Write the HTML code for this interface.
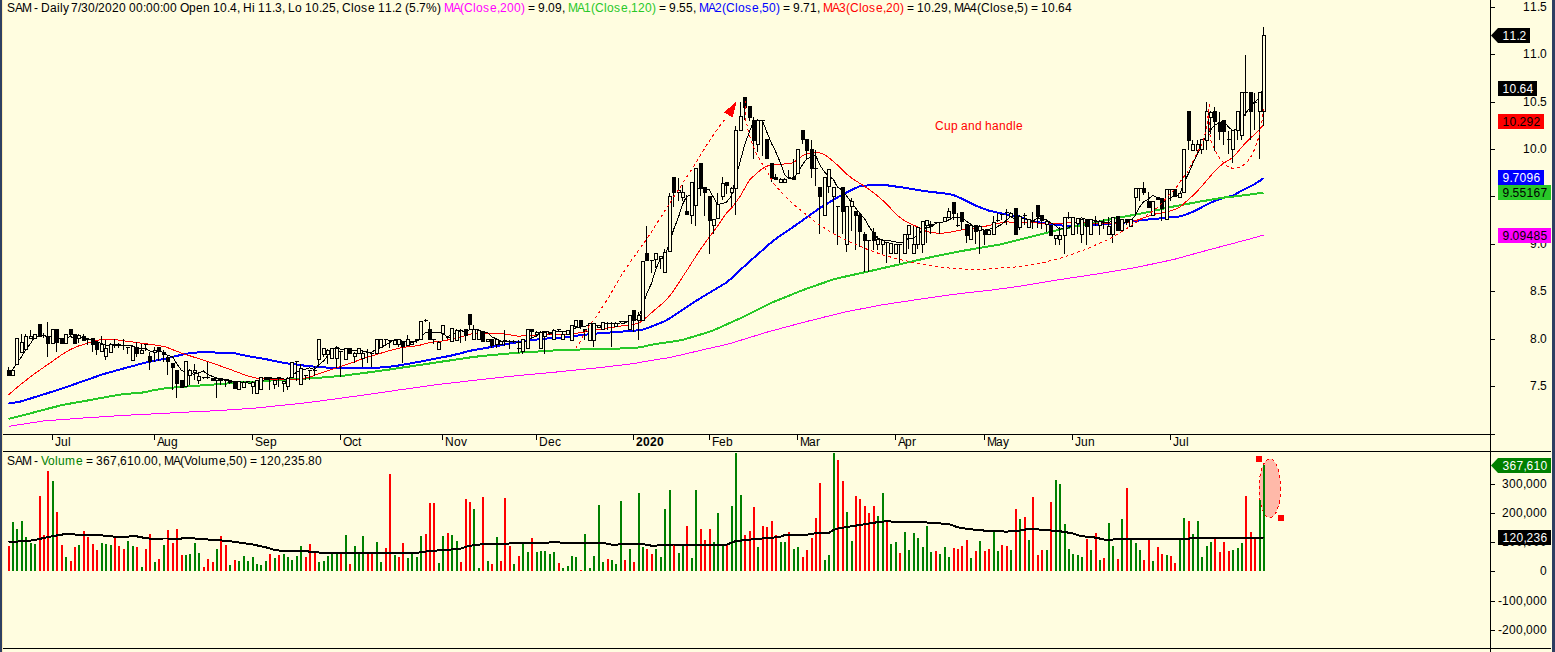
<!DOCTYPE html>
<html><head><meta charset="utf-8"><title>SAM - Daily</title>
<style>
html,body{margin:0;padding:0;background:#fffde0;}
body{width:1555px;height:652px;overflow:hidden;position:relative;}
svg{position:absolute;left:0;top:0;display:block;}
text{font-family:"Liberation Sans",sans-serif;font-size:12px;}
</style></head><body>
<svg width="1555" height="652" viewBox="0 0 1555 652">
<rect x="0" y="0" width="1555" height="652" fill="#fffde0"/>

<g shape-rendering="crispEdges">
<rect x="0" y="0" width="2" height="652" fill="#2e3f62"/>
<rect x="2" y="0" width="1" height="652" fill="#fbe9b4"/>
<rect x="1552" y="0" width="3" height="652" fill="#2e3f62"/>
<rect x="1490" y="0" width="1" height="652" fill="#000"/>
<rect x="3" y="434" width="1492" height="1" fill="#000"/>
<rect x="3" y="451" width="1548" height="1" fill="#000"/>
<rect x="3" y="648" width="1548" height="1" fill="#000"/>
<rect x="1491" y="7" width="4" height="1" fill="#000"/>
<rect x="1491" y="54" width="4" height="1" fill="#000"/>
<rect x="1491" y="102" width="4" height="1" fill="#000"/>
<rect x="1491" y="149" width="4" height="1" fill="#000"/>
<rect x="1491" y="196" width="4" height="1" fill="#000"/>
<rect x="1491" y="244" width="4" height="1" fill="#000"/>
<rect x="1491" y="291" width="4" height="1" fill="#000"/>
<rect x="1491" y="339" width="4" height="1" fill="#000"/>
<rect x="1491" y="386" width="4" height="1" fill="#000"/>
<rect x="1491" y="484" width="4" height="1" fill="#000"/>
<rect x="1491" y="513" width="4" height="1" fill="#000"/>
<rect x="1491" y="542" width="4" height="1" fill="#000"/>
<rect x="1491" y="571" width="4" height="1" fill="#000"/>
<rect x="1491" y="601" width="4" height="1" fill="#000"/>
<rect x="1491" y="630" width="4" height="1" fill="#000"/>
<rect x="52" y="435" width="1" height="5" fill="#000"/>
<rect x="154" y="435" width="1" height="5" fill="#000"/>
<rect x="252" y="435" width="1" height="5" fill="#000"/>
<rect x="340" y="435" width="1" height="5" fill="#000"/>
<rect x="442" y="435" width="1" height="5" fill="#000"/>
<rect x="536" y="435" width="1" height="5" fill="#000"/>
<rect x="633" y="435" width="1" height="5" fill="#000"/>
<rect x="709" y="435" width="1" height="5" fill="#000"/>
<rect x="797" y="435" width="1" height="5" fill="#000"/>
<rect x="895" y="435" width="1" height="5" fill="#000"/>
<rect x="984" y="435" width="1" height="5" fill="#000"/>
<rect x="1072" y="435" width="1" height="5" fill="#000"/>
<rect x="1170" y="435" width="1" height="5" fill="#000"/>
</g>
<g shape-rendering="crispEdges">
<polyline points="8.5,426.4 12.5,425.8 16.5,425.1 21.5,424.4 25.5,423.7 30.5,423.0 34.5,422.3 39.5,421.6 43.5,421.0 47.5,420.7 52.5,420.3 56.5,420.0 61.5,419.7 65.5,419.4 70.5,419.0 74.5,418.7 78.5,418.4 83.5,418.0 87.5,417.7 92.5,417.4 96.5,417.2 101.5,416.8 105.5,416.6 110.5,416.3 114.5,416.0 118.5,415.8 123.5,415.4 127.5,415.2 132.5,414.9 136.5,414.7 141.5,414.5 145.5,414.3 149.5,414.1 154.5,413.8 158.5,413.6 163.5,413.3 167.5,413.1 172.5,412.9 176.5,412.7 181.5,412.4 185.5,412.2 189.5,412.0 194.5,411.8 198.5,411.6 203.5,411.3 207.5,411.1 212.5,410.9 216.5,410.6 220.5,410.4 225.5,410.1 229.5,409.8 234.5,409.5 238.5,409.2 243.5,408.9 247.5,408.7 252.5,408.3 256.5,408.0 260.5,407.6 265.5,407.1 269.5,406.7 274.5,406.1 278.5,405.7 283.5,405.2 287.5,404.8 291.5,404.4 296.5,403.9 300.5,403.4 305.5,402.8 309.5,402.3 314.5,401.7 318.5,401.2 323.5,400.5 327.5,400.0 331.5,399.4 336.5,398.8 340.5,398.2 345.5,397.5 349.5,397.0 354.5,396.3 358.5,395.8 362.5,395.2 367.5,394.5 371.5,394.0 376.5,393.3 380.5,392.7 385.5,391.9 389.5,391.3 394.5,390.6 398.5,390.0 402.5,389.5 407.5,388.8 411.5,388.2 416.5,387.5 420.5,386.9 425.5,386.2 429.5,385.7 433.5,385.1 438.5,384.4 442.5,384.0 447.5,383.4 451.5,382.9 456.5,382.4 460.5,381.9 465.5,381.3 469.5,380.9 473.5,380.4 478.5,379.9 482.5,379.4 487.5,378.9 491.5,378.4 496.5,377.9 500.5,377.5 504.5,377.0 509.5,376.5 513.5,376.1 518.5,375.5 522.5,375.2 527.5,374.7 531.5,374.3 536.5,373.9 540.5,373.5 544.5,373.1 549.5,372.7 553.5,372.3 558.5,371.8 562.5,371.4 567.5,370.9 571.5,370.5 575.5,370.1 580.5,369.6 584.5,369.2 589.5,368.7 593.5,368.3 598.5,367.7 602.5,367.3 607.5,366.7 611.5,366.2 615.5,365.8 620.5,365.2 624.5,364.7 629.5,364.1 633.5,363.6 638.5,362.7 642.5,362.0 646.5,361.3 651.5,360.5 655.5,359.8 660.5,359.0 664.5,358.4 669.5,357.6 673.5,356.7 678.5,355.5 682.5,354.6 686.5,353.7 691.5,352.5 695.5,351.5 700.5,350.4 704.5,349.4 709.5,348.3 713.5,347.4 717.5,346.5 722.5,345.4 726.5,344.5 731.5,343.1 735.5,341.9 740.5,340.3 744.5,339.1 749.5,337.6 753.5,336.3 757.5,335.1 762.5,333.5 766.5,332.3 771.5,330.9 775.5,329.9 780.5,328.5 784.5,327.4 788.5,326.4 793.5,325.0 797.5,323.9 802.5,322.6 806.5,321.5 811.5,320.3 815.5,319.3 819.5,318.3 824.5,317.0 828.5,316.1 833.5,314.8 837.5,313.8 842.5,312.6 846.5,311.7 851.5,310.7 855.5,310.0 859.5,309.2 864.5,308.2 868.5,307.5 873.5,306.5 877.5,305.7 882.5,304.8 886.5,304.2 890.5,303.6 895.5,302.8 899.5,302.2 904.5,301.5 908.5,300.9 913.5,300.1 917.5,299.5 922.5,298.8 926.5,298.2 930.5,297.6 935.5,296.9 939.5,296.4 944.5,295.7 948.5,295.1 953.5,294.4 957.5,293.9 961.5,293.4 966.5,292.8 970.5,292.4 975.5,291.9 979.5,291.4 984.5,290.9 988.5,290.5 993.5,289.8 997.5,289.3 1001.5,288.7 1006.5,288.1 1010.5,287.5 1015.5,286.8 1019.5,286.3 1024.5,285.4 1028.5,284.8 1032.5,284.1 1037.5,283.3 1041.5,282.6 1046.5,281.8 1050.5,281.1 1055.5,280.3 1059.5,279.7 1064.5,278.9 1068.5,278.3 1072.5,277.7 1077.5,276.9 1081.5,276.3 1086.5,275.6 1090.5,275.0 1095.5,274.2 1099.5,273.6 1103.5,272.9 1108.5,272.1 1112.5,271.4 1117.5,270.6 1121.5,269.9 1126.5,269.1 1130.5,268.4 1135.5,267.6 1139.5,266.7 1143.5,265.9 1148.5,264.8 1152.5,264.0 1157.5,262.9 1161.5,262.1 1166.5,261.0 1170.5,260.2 1174.5,259.3 1179.5,257.9 1183.5,256.8 1188.5,255.4 1192.5,254.3 1197.5,252.9 1201.5,251.8 1206.5,250.5 1210.5,249.4 1214.5,248.3 1219.5,247.0 1223.5,245.9 1228.5,244.6 1232.5,243.6 1237.5,242.2 1241.5,241.2 1245.5,240.1 1250.5,238.8 1254.5,237.6 1259.5,236.2 1263.5,235.1" fill="none" stroke="#ff00ff" stroke-width="1" stroke-linejoin="round" />
<polyline points="8.5,403.6 12.5,403.0 16.5,402.3 21.5,401.3 25.5,400.1 30.5,398.5 34.5,397.2 39.5,395.7 43.5,394.4 47.5,393.2 52.5,391.6 56.5,390.3 61.5,388.8 65.5,387.4 70.5,385.6 74.5,384.2 78.5,382.8 83.5,381.0 87.5,379.6 92.5,377.9 96.5,376.5 101.5,374.7 105.5,373.5 110.5,372.1 114.5,371.0 118.5,369.9 123.5,368.5 127.5,367.4 132.5,366.1 136.5,365.0 141.5,363.6 145.5,362.6 149.5,361.8 154.5,360.8 158.5,360.0 163.5,359.0 167.5,358.1 172.5,356.9 176.5,356.0 181.5,354.8 185.5,353.9 189.5,353.3 194.5,352.9 198.5,352.2 203.5,351.7 207.5,351.6 212.5,351.8 216.5,352.8 220.5,352.9 225.5,353.0 229.5,353.0 234.5,353.2 238.5,354.1 243.5,355.2 247.5,356.1 252.5,357.0 256.5,357.6 260.5,358.2 265.5,359.1 269.5,359.9 274.5,361.0 278.5,361.8 283.5,362.8 287.5,363.4 291.5,363.9 296.5,364.6 300.5,365.1 305.5,365.8 309.5,366.2 314.5,366.6 318.5,367.0 323.5,367.4 327.5,367.6 331.5,367.6 336.5,367.8 340.5,367.9 345.5,368.0 349.5,368.0 354.5,368.0 358.5,368.0 362.5,368.0 367.5,368.0 371.5,368.0 376.5,367.9 380.5,367.5 385.5,367.1 389.5,366.7 394.5,366.2 398.5,365.5 402.5,364.8 407.5,363.9 411.5,363.2 416.5,362.3 420.5,361.6 425.5,360.6 429.5,359.8 433.5,359.0 438.5,358.0 442.5,357.3 447.5,356.3 451.5,355.5 456.5,354.3 460.5,353.3 465.5,352.0 469.5,350.9 473.5,350.1 478.5,349.2 482.5,348.6 487.5,347.7 491.5,347.0 496.5,346.1 500.5,345.4 504.5,344.5 509.5,343.5 513.5,342.8 518.5,342.2 522.5,341.7 527.5,340.9 531.5,340.3 536.5,339.6 540.5,339.1 544.5,338.7 549.5,338.3 553.5,338.0 558.5,337.7 562.5,337.4 567.5,336.8 571.5,336.3 575.5,335.8 580.5,335.2 584.5,334.8 589.5,334.2 593.5,333.8 598.5,333.4 602.5,333.1 607.5,332.7 611.5,332.4 615.5,332.1 620.5,331.8 624.5,331.4 629.5,331.0 633.5,330.7 638.5,330.3 642.5,329.8 646.5,328.4 651.5,326.5 655.5,324.9 660.5,322.9 664.5,321.4 669.5,318.5 673.5,315.8 678.5,312.5 682.5,309.8 686.5,307.2 691.5,303.9 695.5,301.2 700.5,298.1 704.5,295.7 709.5,292.7 713.5,290.3 717.5,287.9 722.5,284.9 726.5,282.5 731.5,278.2 735.5,274.5 740.5,269.8 744.5,266.1 749.5,261.5 753.5,258.0 757.5,254.5 762.5,250.1 766.5,246.6 771.5,242.2 775.5,239.1 780.5,235.6 784.5,232.9 788.5,230.1 793.5,226.7 797.5,223.9 802.5,220.4 806.5,217.5 811.5,213.9 815.5,211.1 819.5,208.2 824.5,205.2 828.5,202.8 833.5,199.8 837.5,197.4 842.5,194.6 846.5,192.6 851.5,190.1 855.5,188.1 859.5,186.2 864.5,185.8 868.5,185.4 873.5,185.0 877.5,184.7 882.5,184.6 886.5,185.2 890.5,185.8 895.5,186.5 899.5,187.0 904.5,187.8 908.5,188.4 913.5,189.2 917.5,189.9 922.5,190.7 926.5,191.4 930.5,191.8 935.5,192.4 939.5,192.8 944.5,193.4 948.5,193.9 953.5,195.1 957.5,196.8 961.5,198.5 966.5,201.0 970.5,203.0 975.5,205.5 979.5,207.1 984.5,209.0 988.5,210.5 993.5,211.7 997.5,212.6 1001.5,213.5 1006.5,214.5 1010.5,215.1 1015.5,215.8 1019.5,216.4 1024.5,218.4 1028.5,220.1 1032.5,221.3 1037.5,222.1 1041.5,222.7 1046.5,223.5 1050.5,224.0 1055.5,224.7 1059.5,225.2 1064.5,225.9 1068.5,225.9 1072.5,225.7 1077.5,225.5 1081.5,225.3 1086.5,225.1 1090.5,224.9 1095.5,224.7 1099.5,224.4 1103.5,224.1 1108.5,223.8 1112.5,223.5 1117.5,223.2 1121.5,222.9 1126.5,222.3 1130.5,221.7 1135.5,221.0 1139.5,220.4 1143.5,220.0 1148.5,219.5 1152.5,219.1 1157.5,218.6 1161.5,218.3 1166.5,217.8 1170.5,217.4 1174.5,217.0 1179.5,216.5 1183.5,215.4 1188.5,213.5 1192.5,211.9 1197.5,209.6 1201.5,207.4 1206.5,204.8 1210.5,202.7 1214.5,201.1 1219.5,199.2 1223.5,197.7 1228.5,196.6 1232.5,196.0 1237.5,193.0 1241.5,190.8 1245.5,188.8 1250.5,186.3 1254.5,184.3 1259.5,181.0 1263.5,178.3" fill="none" stroke="#0000ff" stroke-width="2" stroke-linejoin="round" />
<polyline points="8.5,418.8 12.5,417.9 16.5,416.9 21.5,415.6 25.5,414.6 30.5,413.3 34.5,412.2 39.5,410.9 43.5,409.9 47.5,408.8 52.5,407.5 56.5,406.5 61.5,405.2 65.5,404.4 70.5,403.5 74.5,402.8 78.5,402.1 83.5,401.2 87.5,400.5 92.5,399.6 96.5,398.8 101.5,398.0 105.5,397.2 110.5,396.3 114.5,395.6 118.5,394.9 123.5,394.0 127.5,393.7 132.5,393.4 136.5,393.1 141.5,392.6 145.5,392.2 149.5,391.2 154.5,390.0 158.5,389.4 163.5,388.6 167.5,388.1 172.5,387.6 176.5,387.3 181.5,386.9 185.5,386.6 189.5,386.3 194.5,385.9 198.5,385.6 203.5,385.3 207.5,385.0 212.5,384.6 216.5,384.3 220.5,384.0 225.5,383.6 229.5,383.3 234.5,382.9 238.5,382.7 243.5,382.3 247.5,382.1 252.5,381.7 256.5,381.5 260.5,381.2 265.5,380.9 269.5,380.6 274.5,380.3 278.5,380.0 283.5,379.7 287.5,379.4 291.5,379.2 296.5,379.0 300.5,378.7 305.5,378.5 309.5,378.3 314.5,378.0 318.5,377.8 323.5,377.4 327.5,377.1 331.5,376.7 336.5,376.3 340.5,376.0 345.5,375.5 349.5,374.9 354.5,374.2 358.5,373.7 362.5,373.2 367.5,372.5 371.5,372.0 376.5,371.3 380.5,370.7 385.5,370.1 389.5,369.5 394.5,368.7 398.5,368.1 402.5,367.5 407.5,366.8 411.5,366.2 416.5,365.4 420.5,364.8 425.5,364.1 429.5,363.5 433.5,362.9 438.5,362.1 442.5,361.5 447.5,360.8 451.5,360.2 456.5,359.4 460.5,358.8 465.5,358.1 469.5,357.5 473.5,356.9 478.5,356.4 482.5,356.0 487.5,355.5 491.5,355.1 496.5,354.7 500.5,354.3 504.5,353.9 509.5,353.5 513.5,353.1 518.5,352.6 522.5,352.4 527.5,352.1 531.5,351.9 536.5,351.6 540.5,351.4 544.5,351.1 549.5,350.8 553.5,350.5 558.5,350.2 562.5,349.9 567.5,349.8 571.5,349.7 575.5,349.6 580.5,349.5 584.5,349.4 589.5,349.3 593.5,349.2 598.5,349.1 602.5,349.0 607.5,348.9 611.5,348.8 615.5,348.7 620.5,348.5 624.5,348.4 629.5,348.1 633.5,347.8 638.5,347.5 642.5,346.8 646.5,345.8 651.5,344.7 655.5,344.1 660.5,343.3 664.5,342.7 669.5,342.0 673.5,341.4 678.5,340.6 682.5,339.9 686.5,338.7 691.5,337.2 695.5,336.0 700.5,334.5 704.5,333.3 709.5,331.8 713.5,330.3 717.5,328.5 722.5,326.3 726.5,324.5 731.5,322.2 735.5,320.4 740.5,318.2 744.5,316.3 749.5,313.8 753.5,311.8 757.5,309.8 762.5,307.3 766.5,305.3 771.5,302.8 775.5,301.1 780.5,299.1 784.5,297.5 788.5,295.9 793.5,293.8 797.5,292.2 802.5,290.2 806.5,288.8 811.5,287.0 815.5,285.6 819.5,284.2 824.5,282.5 828.5,281.1 833.5,279.4 837.5,278.3 842.5,277.2 846.5,276.3 851.5,275.2 855.5,274.3 859.5,273.4 864.5,272.3 868.5,271.4 873.5,270.3 877.5,269.4 882.5,268.2 886.5,267.3 890.5,266.4 895.5,265.3 899.5,264.3 904.5,263.2 908.5,262.2 913.5,261.1 917.5,260.2 922.5,259.0 926.5,258.1 930.5,257.3 935.5,256.2 939.5,255.4 944.5,254.4 948.5,253.6 953.5,252.6 957.5,251.8 961.5,251.0 966.5,250.2 970.5,249.5 975.5,248.6 979.5,248.0 984.5,247.1 988.5,246.4 993.5,245.6 997.5,244.9 1001.5,244.2 1006.5,242.9 1010.5,241.9 1015.5,240.7 1019.5,239.7 1024.5,238.4 1028.5,237.4 1032.5,236.4 1037.5,235.2 1041.5,234.2 1046.5,232.9 1050.5,231.9 1055.5,230.7 1059.5,229.7 1064.5,228.5 1068.5,227.7 1072.5,226.9 1077.5,225.9 1081.5,225.1 1086.5,224.1 1090.5,223.3 1095.5,222.3 1099.5,221.5 1103.5,220.7 1108.5,219.7 1112.5,218.9 1117.5,217.9 1121.5,217.1 1126.5,216.2 1130.5,215.5 1135.5,214.6 1139.5,213.8 1143.5,213.1 1148.5,212.0 1152.5,211.1 1157.5,210.0 1161.5,209.1 1166.5,208.0 1170.5,207.1 1174.5,206.3 1179.5,205.4 1183.5,204.6 1188.5,203.7 1192.5,203.0 1197.5,202.0 1201.5,201.3 1206.5,200.5 1210.5,199.8 1214.5,199.1 1219.5,198.3 1223.5,197.6 1228.5,197.1 1232.5,196.7 1237.5,196.2 1241.5,195.6 1245.5,195.1 1250.5,194.4 1254.5,193.8 1259.5,193.3 1263.5,192.8" fill="none" stroke="#28c828" stroke-width="2" stroke-linejoin="round" />
<polyline points="8.5,394.8 12.5,391.4 16.5,388.0 21.5,383.8 25.5,380.7 30.5,376.8 34.5,373.7 39.5,370.3 43.5,367.5 47.5,364.7 52.5,361.2 56.5,358.3 61.5,354.9 65.5,352.3 70.5,349.5 74.5,347.7 78.5,346.0 83.5,344.5 87.5,343.3 92.5,341.6 96.5,340.4 101.5,339.5 105.5,339.4 110.5,339.4 114.5,339.5 118.5,340.1 123.5,340.8 127.5,341.4 132.5,342.0 136.5,342.5 141.5,343.2 145.5,343.7 149.5,344.2 154.5,345.0 158.5,345.6 163.5,346.3 167.5,347.6 172.5,349.6 176.5,351.2 181.5,353.1 185.5,354.4 189.5,355.7 194.5,357.3 198.5,358.6 203.5,360.2 207.5,361.5 212.5,363.2 216.5,364.6 220.5,366.0 225.5,367.8 229.5,369.2 234.5,371.1 238.5,372.6 243.5,374.4 247.5,375.8 252.5,377.1 256.5,378.2 260.5,378.6 265.5,378.8 269.5,379.0 274.5,379.2 278.5,379.4 283.5,379.4 287.5,379.4 291.5,379.4 296.5,379.4 300.5,379.0 305.5,378.1 309.5,377.2 314.5,375.3 318.5,373.9 323.5,372.1 327.5,370.8 331.5,369.4 336.5,367.8 340.5,366.5 345.5,364.8 349.5,363.4 354.5,361.7 358.5,360.3 362.5,358.9 367.5,357.2 371.5,356.0 376.5,354.5 380.5,353.3 385.5,351.8 389.5,350.7 394.5,349.4 398.5,348.4 402.5,347.4 407.5,346.8 411.5,346.4 416.5,345.9 420.5,345.0 425.5,343.6 429.5,342.5 433.5,341.9 438.5,341.6 442.5,341.0 447.5,340.0 451.5,339.1 456.5,337.9 460.5,336.9 465.5,335.7 469.5,334.4 473.5,333.1 478.5,333.0 482.5,333.4 487.5,333.7 491.5,333.7 496.5,333.7 500.5,333.7 504.5,333.9 509.5,334.8 513.5,335.4 518.5,336.3 522.5,335.9 527.5,335.5 531.5,335.3 536.5,335.0 540.5,334.8 544.5,334.8 549.5,334.8 553.5,334.8 558.5,334.8 562.5,334.8 567.5,334.3 571.5,333.9 575.5,333.4 580.5,332.6 584.5,331.9 589.5,331.1 593.5,330.4 598.5,329.6 602.5,328.9 607.5,328.1 611.5,327.5 615.5,326.9 620.5,326.1 624.5,325.5 629.5,324.9 633.5,324.4 638.5,323.4 642.5,320.8 646.5,317.2 651.5,312.8 655.5,309.2 660.5,305.1 664.5,301.6 669.5,296.1 673.5,290.7 678.5,283.2 682.5,277.1 686.5,271.1 691.5,263.1 695.5,256.9 700.5,249.4 704.5,243.7 709.5,236.8 713.5,231.6 717.5,226.3 722.5,218.8 726.5,213.1 731.5,208.0 735.5,202.8 740.5,195.9 744.5,188.6 749.5,179.9 753.5,176.2 757.5,172.6 762.5,168.5 766.5,166.3 771.5,164.8 775.5,164.2 780.5,164.1 784.5,164.0 788.5,163.9 793.5,162.5 797.5,159.5 802.5,155.7 806.5,154.0 811.5,152.9 815.5,152.0 819.5,152.9 824.5,154.7 828.5,157.5 833.5,161.5 837.5,165.1 842.5,169.8 846.5,173.9 851.5,177.9 855.5,180.7 859.5,183.1 864.5,186.2 868.5,189.0 873.5,192.7 877.5,195.9 882.5,200.2 886.5,203.8 890.5,208.2 895.5,213.5 899.5,217.1 904.5,220.6 908.5,222.6 913.5,225.1 917.5,227.0 922.5,229.5 926.5,231.5 930.5,232.2 935.5,232.9 939.5,233.4 944.5,233.0 948.5,232.4 953.5,231.5 957.5,230.7 961.5,230.0 966.5,229.2 970.5,228.6 975.5,227.9 979.5,227.3 984.5,226.4 988.5,225.6 993.5,224.5 997.5,223.5 1001.5,222.6 1006.5,221.9 1010.5,222.1 1015.5,222.3 1019.5,222.4 1024.5,222.6 1028.5,222.7 1032.5,222.9 1037.5,223.0 1041.5,223.2 1046.5,223.4 1050.5,223.3 1055.5,223.2 1059.5,223.1 1064.5,223.0 1068.5,222.9 1072.5,222.8 1077.5,222.7 1081.5,222.8 1086.5,222.9 1090.5,223.0 1095.5,223.1 1099.5,223.2 1103.5,223.3 1108.5,223.4 1112.5,223.2 1117.5,222.9 1121.5,222.6 1126.5,222.3 1130.5,222.0 1135.5,220.6 1139.5,219.4 1143.5,217.9 1148.5,216.2 1152.5,214.8 1157.5,213.5 1161.5,212.9 1166.5,212.0 1170.5,210.9 1174.5,209.5 1179.5,207.5 1183.5,204.0 1188.5,199.4 1192.5,195.9 1197.5,190.9 1201.5,186.5 1206.5,180.7 1210.5,176.0 1214.5,171.5 1219.5,166.7 1223.5,163.1 1228.5,160.4 1232.5,157.7 1237.5,152.2 1241.5,147.6 1245.5,142.8 1250.5,138.0 1254.5,134.4 1259.5,129.3 1263.5,125.2" fill="none" stroke="#ff0000" stroke-width="1" stroke-linejoin="round" />
<polyline points="12.5,370.0 16.5,363.4 21.5,356.8 25.5,350.2 30.5,343.6 34.5,337.0 39.5,336.8 43.5,335.6 47.5,337.0 52.5,335.6 56.5,337.2 61.5,338.6 65.5,338.2 70.5,336.4 74.5,339.2 78.5,337.8 83.5,337.2 87.5,338.4 92.5,340.4 96.5,341.6 101.5,343.4 105.5,345.0 110.5,345.8 114.5,346.0 118.5,345.2 123.5,345.6 127.5,345.6 132.5,346.0 136.5,347.6 141.5,348.6 145.5,348.4 149.5,351.0 154.5,351.8 158.5,351.4 163.5,352.2 167.5,355.4 172.5,356.6 176.5,363.2 181.5,370.4 185.5,371.8 189.5,373.6 194.5,374.2 198.5,372.8 203.5,371.0 207.5,374.4 212.5,376.4 216.5,378.0 220.5,378.8 225.5,379.4 229.5,380.2 234.5,381.8 238.5,382.4 243.5,382.8 247.5,383.0 252.5,383.0 256.5,381.4 260.5,380.6 265.5,379.8 269.5,379.0 274.5,378.6 278.5,378.2 283.5,379.0 287.5,379.0 291.5,375.8 296.5,372.2 300.5,370.2 305.5,369.2 309.5,367.8 314.5,369.6 318.5,365.0 323.5,361.0 327.5,355.8 331.5,351.2 336.5,346.6 340.5,349.2 345.5,349.2 349.5,349.8 354.5,350.8 358.5,350.8 362.5,351.0 367.5,352.0 371.5,352.2 376.5,349.4 380.5,347.6 385.5,345.0 389.5,342.6 394.5,339.8 398.5,339.8 402.5,341.2 407.5,341.0 411.5,341.2 416.5,341.2 420.5,337.6 425.5,332.6 429.5,332.6 433.5,332.2 438.5,332.6 442.5,333.4 447.5,336.8 451.5,334.6 456.5,332.6 460.5,330.4 465.5,332.4 469.5,329.6 473.5,329.8 478.5,329.8 482.5,331.8 487.5,332.6 491.5,336.8 496.5,338.8 500.5,341.0 504.5,341.0 509.5,341.6 513.5,341.0 518.5,343.0 522.5,342.6 527.5,340.2 531.5,338.0 536.5,336.0 540.5,332.6 544.5,331.2 549.5,332.2 553.5,332.0 558.5,331.6 562.5,332.0 567.5,331.6 571.5,329.8 575.5,327.8 580.5,327.0 584.5,326.4 589.5,325.0 593.5,324.6 598.5,325.6 602.5,324.8 607.5,323.4 611.5,323.6 615.5,323.6 620.5,323.0 624.5,323.0 629.5,321.2 633.5,320.4 638.5,318.8 642.5,306.6 646.5,294.2 651.5,283.4 655.5,270.0 660.5,258.2 664.5,256.4 669.5,243.6 673.5,229.8 678.5,217.2 682.5,204.4 686.5,196.8 691.5,194.0 695.5,189.2 700.5,188.8 704.5,188.8 709.5,190.0 713.5,197.4 717.5,204.6 722.5,203.6 726.5,202.2 731.5,195.8 735.5,178.0 740.5,160.4 744.5,145.2 749.5,131.6 753.5,122.0 757.5,120.0 762.5,121.0 766.5,131.2 771.5,143.4 775.5,151.2 780.5,163.0 784.5,174.6 788.5,178.6 793.5,178.8 797.5,172.8 802.5,164.8 806.5,159.0 811.5,157.0 815.5,155.0 819.5,164.4 824.5,172.0 828.5,175.8 833.5,179.6 837.5,187.2 842.5,190.2 846.5,196.0 851.5,202.4 855.5,208.0 859.5,212.8 864.5,218.6 868.5,225.6 873.5,233.4 877.5,238.2 882.5,240.0 886.5,240.6 890.5,241.0 895.5,241.8 899.5,243.0 904.5,241.8 908.5,238.2 913.5,238.4 917.5,235.0 922.5,230.2 926.5,227.4 930.5,227.6 935.5,223.4 939.5,222.6 944.5,221.8 948.5,220.0 953.5,217.4 957.5,218.0 961.5,217.6 966.5,221.2 970.5,224.0 975.5,227.6 979.5,227.6 984.5,230.2 988.5,229.2 993.5,228.6 997.5,226.6 1001.5,224.4 1006.5,220.2 1010.5,216.8 1015.5,219.2 1019.5,218.2 1024.5,218.4 1028.5,219.6 1032.5,221.4 1037.5,217.8 1041.5,218.6 1046.5,219.6 1050.5,222.8 1055.5,225.4 1059.5,229.2 1064.5,228.6 1068.5,228.0 1072.5,224.4 1077.5,221.0 1081.5,217.8 1086.5,219.6 1090.5,219.8 1095.5,220.8 1099.5,221.4 1103.5,222.2 1108.5,222.2 1112.5,221.8 1117.5,223.4 1121.5,223.0 1126.5,222.6 1130.5,221.2 1135.5,215.4 1139.5,207.2 1143.5,201.8 1148.5,199.0 1152.5,195.4 1157.5,197.6 1161.5,201.4 1166.5,200.8 1170.5,197.4 1174.5,196.4 1179.5,195.2 1183.5,183.4 1188.5,173.6 1192.5,164.4 1197.5,154.0 1201.5,143.2 1206.5,135.6 1210.5,130.0 1214.5,125.4 1219.5,122.8 1223.5,121.2 1228.5,127.0 1232.5,130.6 1237.5,128.6 1241.5,120.8 1245.5,113.2 1250.5,107.4 1254.5,102.0 1259.5,98.2 1263.5,86.8" fill="none" stroke="#000" stroke-width="1" stroke-linejoin="round" />
</g>
<g shape-rendering="crispEdges">
<rect x="8" y="367" width="1" height="9" fill="#000"/>
<rect x="7" y="370" width="4" height="6" fill="#000"/>
<rect x="12" y="370" width="1" height="6" fill="#000"/>
<rect x="11" y="370" width="4" height="6" fill="#000"/>
<rect x="12" y="371" width="2" height="4" fill="#fffde0"/>
<rect x="16" y="338" width="1" height="27" fill="#000"/>
<rect x="15" y="338" width="4" height="27" fill="#000"/>
<rect x="16" y="339" width="2" height="25" fill="#fffde0"/>
<rect x="21" y="334" width="1" height="19" fill="#000"/>
<rect x="20" y="342" width="4" height="11" fill="#000"/>
<rect x="21" y="343" width="2" height="9" fill="#fffde0"/>
<rect x="25" y="334" width="1" height="16" fill="#000"/>
<rect x="24" y="336" width="4" height="14" fill="#000"/>
<rect x="25" y="337" width="2" height="12" fill="#fffde0"/>
<rect x="30" y="330" width="1" height="9" fill="#000"/>
<rect x="29" y="336" width="4" height="3" fill="#000"/>
<rect x="30" y="337" width="2" height="1" fill="#fffde0"/>
<rect x="34" y="334" width="1" height="5" fill="#000"/>
<rect x="33" y="334" width="4" height="5" fill="#000"/>
<rect x="34" y="335" width="2" height="3" fill="#fffde0"/>
<rect x="39" y="324" width="1" height="13" fill="#000"/>
<rect x="38" y="324" width="4" height="13" fill="#000"/>
<rect x="43" y="333" width="1" height="5" fill="#000"/>
<rect x="42" y="335" width="4" height="1" fill="#000"/>
<rect x="47" y="322" width="1" height="35" fill="#000"/>
<rect x="46" y="337" width="4" height="7" fill="#000"/>
<rect x="52" y="329" width="1" height="15" fill="#000"/>
<rect x="51" y="329" width="4" height="15" fill="#000"/>
<rect x="52" y="330" width="2" height="13" fill="#fffde0"/>
<rect x="56" y="329" width="1" height="23" fill="#000"/>
<rect x="55" y="329" width="4" height="14" fill="#000"/>
<rect x="61" y="338" width="1" height="6" fill="#000"/>
<rect x="60" y="338" width="4" height="6" fill="#000"/>
<rect x="65" y="334" width="1" height="10" fill="#000"/>
<rect x="64" y="334" width="4" height="10" fill="#000"/>
<rect x="65" y="335" width="2" height="8" fill="#fffde0"/>
<rect x="70" y="329" width="1" height="8" fill="#000"/>
<rect x="69" y="329" width="4" height="6" fill="#000"/>
<rect x="74" y="334" width="1" height="10" fill="#000"/>
<rect x="73" y="334" width="4" height="10" fill="#000"/>
<rect x="78" y="334" width="1" height="9" fill="#000"/>
<rect x="77" y="335" width="4" height="4" fill="#000"/>
<rect x="78" y="336" width="2" height="2" fill="#fffde0"/>
<rect x="83" y="334" width="1" height="7" fill="#000"/>
<rect x="82" y="336" width="4" height="5" fill="#000"/>
<rect x="87" y="338" width="1" height="7" fill="#000"/>
<rect x="86" y="339" width="4" height="1" fill="#000"/>
<rect x="92" y="338" width="1" height="14" fill="#000"/>
<rect x="91" y="338" width="4" height="7" fill="#000"/>
<rect x="96" y="341" width="1" height="14" fill="#000"/>
<rect x="95" y="342" width="4" height="8" fill="#000"/>
<rect x="101" y="336" width="1" height="16" fill="#000"/>
<rect x="100" y="344" width="4" height="8" fill="#000"/>
<rect x="101" y="345" width="2" height="6" fill="#fffde0"/>
<rect x="105" y="340" width="1" height="20" fill="#000"/>
<rect x="104" y="348" width="4" height="9" fill="#000"/>
<rect x="105" y="349" width="2" height="7" fill="#fffde0"/>
<rect x="110" y="343" width="1" height="10" fill="#000"/>
<rect x="109" y="344" width="4" height="9" fill="#000"/>
<rect x="110" y="345" width="2" height="7" fill="#fffde0"/>
<rect x="114" y="339" width="1" height="9" fill="#000"/>
<rect x="113" y="344" width="4" height="1" fill="#000"/>
<rect x="118" y="343" width="1" height="5" fill="#000"/>
<rect x="117" y="344" width="4" height="1" fill="#000"/>
<rect x="123" y="339" width="1" height="11" fill="#000"/>
<rect x="122" y="345" width="4" height="1" fill="#000"/>
<rect x="127" y="347" width="1" height="7" fill="#000"/>
<rect x="126" y="347" width="4" height="1" fill="#000"/>
<rect x="132" y="346" width="1" height="15" fill="#000"/>
<rect x="131" y="346" width="4" height="15" fill="#000"/>
<rect x="132" y="347" width="2" height="13" fill="#fffde0"/>
<rect x="136" y="342" width="1" height="15" fill="#000"/>
<rect x="135" y="348" width="4" height="6" fill="#000"/>
<rect x="141" y="344" width="1" height="10" fill="#000"/>
<rect x="140" y="350" width="4" height="4" fill="#000"/>
<rect x="141" y="351" width="2" height="2" fill="#fffde0"/>
<rect x="145" y="344" width="1" height="7" fill="#000"/>
<rect x="144" y="344" width="4" height="1" fill="#000"/>
<rect x="149" y="352" width="1" height="18" fill="#000"/>
<rect x="148" y="356" width="4" height="6" fill="#000"/>
<rect x="154" y="347" width="1" height="15" fill="#000"/>
<rect x="153" y="350" width="4" height="3" fill="#000"/>
<rect x="154" y="351" width="2" height="1" fill="#fffde0"/>
<rect x="158" y="347" width="1" height="14" fill="#000"/>
<rect x="157" y="347" width="4" height="5" fill="#000"/>
<rect x="163" y="350" width="1" height="12" fill="#000"/>
<rect x="162" y="352" width="4" height="3" fill="#000"/>
<rect x="167" y="355" width="1" height="20" fill="#000"/>
<rect x="166" y="357" width="4" height="5" fill="#000"/>
<rect x="172" y="363" width="1" height="27" fill="#000"/>
<rect x="171" y="363" width="4" height="5" fill="#000"/>
<rect x="176" y="370" width="1" height="28" fill="#000"/>
<rect x="175" y="370" width="4" height="14" fill="#000"/>
<rect x="181" y="380" width="1" height="8" fill="#000"/>
<rect x="180" y="380" width="4" height="8" fill="#000"/>
<rect x="185" y="361" width="1" height="26" fill="#000"/>
<rect x="184" y="361" width="4" height="26" fill="#000"/>
<rect x="185" y="362" width="2" height="24" fill="#fffde0"/>
<rect x="189" y="369" width="1" height="16" fill="#000"/>
<rect x="188" y="370" width="4" height="6" fill="#000"/>
<rect x="189" y="371" width="2" height="4" fill="#fffde0"/>
<rect x="194" y="364" width="1" height="16" fill="#000"/>
<rect x="193" y="370" width="4" height="3" fill="#000"/>
<rect x="194" y="371" width="2" height="1" fill="#fffde0"/>
<rect x="198" y="372" width="1" height="12" fill="#000"/>
<rect x="197" y="376" width="4" height="5" fill="#000"/>
<rect x="198" y="377" width="2" height="3" fill="#fffde0"/>
<rect x="203" y="377" width="1" height="2" fill="#000"/>
<rect x="202" y="377" width="4" height="1" fill="#000"/>
<rect x="207" y="362" width="1" height="17" fill="#000"/>
<rect x="206" y="377" width="4" height="1" fill="#000"/>
<rect x="212" y="378" width="1" height="3" fill="#000"/>
<rect x="211" y="378" width="4" height="3" fill="#000"/>
<rect x="216" y="378" width="1" height="20" fill="#000"/>
<rect x="215" y="378" width="4" height="3" fill="#000"/>
<rect x="216" y="379" width="2" height="1" fill="#fffde0"/>
<rect x="220" y="378" width="1" height="7" fill="#000"/>
<rect x="219" y="378" width="4" height="3" fill="#000"/>
<rect x="225" y="380" width="1" height="7" fill="#000"/>
<rect x="224" y="380" width="4" height="1" fill="#000"/>
<rect x="229" y="380" width="1" height="4" fill="#000"/>
<rect x="228" y="380" width="4" height="3" fill="#000"/>
<rect x="234" y="381" width="1" height="8" fill="#000"/>
<rect x="233" y="381" width="4" height="8" fill="#000"/>
<rect x="238" y="381" width="1" height="9" fill="#000"/>
<rect x="237" y="381" width="4" height="9" fill="#000"/>
<rect x="238" y="382" width="2" height="7" fill="#fffde0"/>
<rect x="243" y="381" width="1" height="7" fill="#000"/>
<rect x="242" y="382" width="4" height="6" fill="#000"/>
<rect x="243" y="383" width="2" height="4" fill="#fffde0"/>
<rect x="247" y="381" width="1" height="2" fill="#000"/>
<rect x="246" y="381" width="4" height="1" fill="#000"/>
<rect x="252" y="381" width="1" height="13" fill="#000"/>
<rect x="251" y="382" width="4" height="5" fill="#000"/>
<rect x="252" y="383" width="2" height="3" fill="#fffde0"/>
<rect x="256" y="380" width="1" height="14" fill="#000"/>
<rect x="255" y="380" width="4" height="14" fill="#000"/>
<rect x="256" y="381" width="2" height="12" fill="#fffde0"/>
<rect x="260" y="377" width="1" height="13" fill="#000"/>
<rect x="259" y="377" width="4" height="13" fill="#000"/>
<rect x="260" y="378" width="2" height="11" fill="#fffde0"/>
<rect x="265" y="377" width="1" height="2" fill="#000"/>
<rect x="264" y="377" width="4" height="2" fill="#000"/>
<rect x="269" y="377" width="1" height="13" fill="#000"/>
<rect x="268" y="377" width="4" height="2" fill="#000"/>
<rect x="274" y="380" width="1" height="9" fill="#000"/>
<rect x="273" y="380" width="4" height="5" fill="#000"/>
<rect x="274" y="381" width="2" height="3" fill="#fffde0"/>
<rect x="278" y="377" width="1" height="10" fill="#000"/>
<rect x="277" y="377" width="4" height="2" fill="#000"/>
<rect x="283" y="381" width="1" height="11" fill="#000"/>
<rect x="282" y="381" width="4" height="3" fill="#000"/>
<rect x="283" y="382" width="2" height="1" fill="#fffde0"/>
<rect x="287" y="377" width="1" height="13" fill="#000"/>
<rect x="286" y="378" width="4" height="9" fill="#000"/>
<rect x="287" y="379" width="2" height="7" fill="#fffde0"/>
<rect x="291" y="362" width="1" height="16" fill="#000"/>
<rect x="290" y="362" width="4" height="16" fill="#000"/>
<rect x="291" y="363" width="2" height="14" fill="#fffde0"/>
<rect x="296" y="361" width="1" height="20" fill="#000"/>
<rect x="295" y="361" width="4" height="1" fill="#000"/>
<rect x="300" y="364" width="1" height="21" fill="#000"/>
<rect x="299" y="368" width="4" height="17" fill="#000"/>
<rect x="300" y="369" width="2" height="15" fill="#fffde0"/>
<rect x="305" y="375" width="1" height="5" fill="#000"/>
<rect x="304" y="375" width="4" height="1" fill="#000"/>
<rect x="309" y="370" width="1" height="10" fill="#000"/>
<rect x="308" y="370" width="4" height="1" fill="#000"/>
<rect x="314" y="366" width="1" height="10" fill="#000"/>
<rect x="313" y="370" width="4" height="1" fill="#000"/>
<rect x="318" y="339" width="1" height="28" fill="#000"/>
<rect x="317" y="339" width="4" height="21" fill="#000"/>
<rect x="318" y="340" width="2" height="19" fill="#fffde0"/>
<rect x="323" y="348" width="1" height="9" fill="#000"/>
<rect x="322" y="348" width="4" height="7" fill="#000"/>
<rect x="323" y="349" width="2" height="5" fill="#fffde0"/>
<rect x="327" y="349" width="1" height="15" fill="#000"/>
<rect x="326" y="350" width="4" height="5" fill="#000"/>
<rect x="327" y="351" width="2" height="3" fill="#fffde0"/>
<rect x="331" y="348" width="1" height="11" fill="#000"/>
<rect x="330" y="348" width="4" height="11" fill="#000"/>
<rect x="331" y="349" width="2" height="9" fill="#fffde0"/>
<rect x="336" y="347" width="1" height="21" fill="#000"/>
<rect x="335" y="348" width="4" height="11" fill="#000"/>
<rect x="336" y="349" width="2" height="9" fill="#fffde0"/>
<rect x="340" y="351" width="1" height="26" fill="#000"/>
<rect x="339" y="351" width="4" height="1" fill="#000"/>
<rect x="345" y="348" width="1" height="12" fill="#000"/>
<rect x="344" y="348" width="4" height="12" fill="#000"/>
<rect x="345" y="349" width="2" height="10" fill="#fffde0"/>
<rect x="349" y="348" width="1" height="6" fill="#000"/>
<rect x="348" y="348" width="4" height="6" fill="#000"/>
<rect x="354" y="352" width="1" height="11" fill="#000"/>
<rect x="353" y="353" width="4" height="4" fill="#000"/>
<rect x="354" y="354" width="2" height="2" fill="#fffde0"/>
<rect x="358" y="348" width="1" height="6" fill="#000"/>
<rect x="357" y="348" width="4" height="6" fill="#000"/>
<rect x="358" y="349" width="2" height="4" fill="#fffde0"/>
<rect x="362" y="352" width="1" height="15" fill="#000"/>
<rect x="361" y="353" width="4" height="6" fill="#000"/>
<rect x="362" y="354" width="2" height="4" fill="#fffde0"/>
<rect x="367" y="349" width="1" height="14" fill="#000"/>
<rect x="366" y="352" width="4" height="1" fill="#000"/>
<rect x="371" y="353" width="1" height="14" fill="#000"/>
<rect x="370" y="353" width="4" height="1" fill="#000"/>
<rect x="376" y="339" width="1" height="15" fill="#000"/>
<rect x="375" y="339" width="4" height="15" fill="#000"/>
<rect x="376" y="340" width="2" height="13" fill="#fffde0"/>
<rect x="380" y="339" width="1" height="9" fill="#000"/>
<rect x="379" y="339" width="4" height="9" fill="#000"/>
<rect x="380" y="340" width="2" height="7" fill="#fffde0"/>
<rect x="385" y="339" width="1" height="6" fill="#000"/>
<rect x="384" y="339" width="4" height="1" fill="#000"/>
<rect x="389" y="340" width="1" height="8" fill="#000"/>
<rect x="388" y="340" width="4" height="1" fill="#000"/>
<rect x="394" y="340" width="1" height="5" fill="#000"/>
<rect x="393" y="340" width="4" height="5" fill="#000"/>
<rect x="394" y="341" width="2" height="3" fill="#fffde0"/>
<rect x="398" y="339" width="1" height="8" fill="#000"/>
<rect x="397" y="339" width="4" height="6" fill="#000"/>
<rect x="398" y="340" width="2" height="4" fill="#fffde0"/>
<rect x="402" y="341" width="1" height="22" fill="#000"/>
<rect x="401" y="341" width="4" height="6" fill="#000"/>
<rect x="407" y="335" width="1" height="11" fill="#000"/>
<rect x="406" y="339" width="4" height="7" fill="#000"/>
<rect x="407" y="340" width="2" height="5" fill="#fffde0"/>
<rect x="411" y="341" width="1" height="4" fill="#000"/>
<rect x="410" y="342" width="4" height="3" fill="#000"/>
<rect x="411" y="343" width="2" height="1" fill="#fffde0"/>
<rect x="416" y="339" width="1" height="4" fill="#000"/>
<rect x="415" y="339" width="4" height="2" fill="#000"/>
<rect x="420" y="321" width="1" height="19" fill="#000"/>
<rect x="419" y="321" width="4" height="19" fill="#000"/>
<rect x="420" y="322" width="2" height="17" fill="#fffde0"/>
<rect x="425" y="319" width="1" height="3" fill="#000"/>
<rect x="424" y="320" width="4" height="1" fill="#000"/>
<rect x="429" y="322" width="1" height="18" fill="#000"/>
<rect x="428" y="329" width="4" height="11" fill="#000"/>
<rect x="433" y="339" width="1" height="5" fill="#000"/>
<rect x="432" y="339" width="4" height="1" fill="#000"/>
<rect x="438" y="341" width="1" height="9" fill="#000"/>
<rect x="437" y="342" width="4" height="8" fill="#000"/>
<rect x="438" y="343" width="2" height="6" fill="#fffde0"/>
<rect x="442" y="325" width="1" height="16" fill="#000"/>
<rect x="441" y="325" width="4" height="9" fill="#000"/>
<rect x="442" y="326" width="2" height="7" fill="#fffde0"/>
<rect x="447" y="336" width="1" height="3" fill="#000"/>
<rect x="446" y="337" width="4" height="1" fill="#000"/>
<rect x="451" y="328" width="1" height="14" fill="#000"/>
<rect x="450" y="328" width="4" height="14" fill="#000"/>
<rect x="451" y="329" width="2" height="12" fill="#fffde0"/>
<rect x="456" y="329" width="1" height="12" fill="#000"/>
<rect x="455" y="330" width="4" height="11" fill="#000"/>
<rect x="456" y="331" width="2" height="9" fill="#fffde0"/>
<rect x="460" y="329" width="1" height="14" fill="#000"/>
<rect x="459" y="330" width="4" height="1" fill="#000"/>
<rect x="465" y="329" width="1" height="12" fill="#000"/>
<rect x="464" y="329" width="4" height="7" fill="#000"/>
<rect x="469" y="314" width="1" height="16" fill="#000"/>
<rect x="468" y="314" width="4" height="11" fill="#000"/>
<rect x="473" y="325" width="1" height="15" fill="#000"/>
<rect x="472" y="329" width="4" height="11" fill="#000"/>
<rect x="473" y="330" width="2" height="9" fill="#fffde0"/>
<rect x="478" y="329" width="1" height="11" fill="#000"/>
<rect x="477" y="330" width="4" height="10" fill="#000"/>
<rect x="478" y="331" width="2" height="8" fill="#fffde0"/>
<rect x="482" y="331" width="1" height="11" fill="#000"/>
<rect x="481" y="331" width="4" height="11" fill="#000"/>
<rect x="487" y="339" width="1" height="3" fill="#000"/>
<rect x="486" y="339" width="4" height="3" fill="#000"/>
<rect x="487" y="340" width="2" height="1" fill="#fffde0"/>
<rect x="491" y="339" width="1" height="9" fill="#000"/>
<rect x="490" y="339" width="4" height="7" fill="#000"/>
<rect x="496" y="339" width="1" height="9" fill="#000"/>
<rect x="495" y="339" width="4" height="6" fill="#000"/>
<rect x="496" y="340" width="2" height="4" fill="#fffde0"/>
<rect x="500" y="340" width="1" height="5" fill="#000"/>
<rect x="499" y="341" width="4" height="4" fill="#000"/>
<rect x="500" y="342" width="2" height="2" fill="#fffde0"/>
<rect x="504" y="330" width="1" height="16" fill="#000"/>
<rect x="503" y="340" width="4" height="1" fill="#000"/>
<rect x="509" y="340" width="1" height="9" fill="#000"/>
<rect x="508" y="341" width="4" height="1" fill="#000"/>
<rect x="513" y="340" width="1" height="3" fill="#000"/>
<rect x="512" y="341" width="4" height="1" fill="#000"/>
<rect x="518" y="340" width="1" height="13" fill="#000"/>
<rect x="517" y="348" width="4" height="1" fill="#000"/>
<rect x="522" y="339" width="1" height="15" fill="#000"/>
<rect x="521" y="339" width="4" height="13" fill="#000"/>
<rect x="522" y="340" width="2" height="11" fill="#fffde0"/>
<rect x="527" y="329" width="1" height="20" fill="#000"/>
<rect x="526" y="329" width="4" height="20" fill="#000"/>
<rect x="527" y="330" width="2" height="18" fill="#fffde0"/>
<rect x="531" y="329" width="1" height="10" fill="#000"/>
<rect x="530" y="329" width="4" height="3" fill="#000"/>
<rect x="536" y="331" width="1" height="4" fill="#000"/>
<rect x="535" y="332" width="4" height="3" fill="#000"/>
<rect x="536" y="333" width="2" height="1" fill="#fffde0"/>
<rect x="540" y="331" width="1" height="18" fill="#000"/>
<rect x="539" y="332" width="4" height="17" fill="#000"/>
<rect x="540" y="333" width="2" height="15" fill="#fffde0"/>
<rect x="544" y="332" width="1" height="22" fill="#000"/>
<rect x="543" y="332" width="4" height="5" fill="#000"/>
<rect x="544" y="333" width="2" height="3" fill="#fffde0"/>
<rect x="549" y="333" width="1" height="2" fill="#000"/>
<rect x="548" y="333" width="4" height="1" fill="#000"/>
<rect x="553" y="329" width="1" height="11" fill="#000"/>
<rect x="552" y="330" width="4" height="10" fill="#000"/>
<rect x="553" y="331" width="2" height="8" fill="#fffde0"/>
<rect x="558" y="329" width="1" height="2" fill="#000"/>
<rect x="557" y="329" width="4" height="1" fill="#000"/>
<rect x="562" y="331" width="1" height="9" fill="#000"/>
<rect x="561" y="334" width="4" height="6" fill="#000"/>
<rect x="562" y="335" width="2" height="4" fill="#fffde0"/>
<rect x="567" y="330" width="1" height="5" fill="#000"/>
<rect x="566" y="330" width="4" height="5" fill="#000"/>
<rect x="567" y="331" width="2" height="3" fill="#fffde0"/>
<rect x="571" y="325" width="1" height="16" fill="#000"/>
<rect x="570" y="325" width="4" height="16" fill="#000"/>
<rect x="571" y="326" width="2" height="14" fill="#fffde0"/>
<rect x="575" y="320" width="1" height="9" fill="#000"/>
<rect x="574" y="320" width="4" height="7" fill="#000"/>
<rect x="575" y="321" width="2" height="5" fill="#fffde0"/>
<rect x="580" y="320" width="1" height="9" fill="#000"/>
<rect x="579" y="320" width="4" height="7" fill="#000"/>
<rect x="584" y="329" width="1" height="11" fill="#000"/>
<rect x="583" y="329" width="4" height="3" fill="#000"/>
<rect x="589" y="323" width="1" height="18" fill="#000"/>
<rect x="588" y="323" width="4" height="18" fill="#000"/>
<rect x="589" y="324" width="2" height="16" fill="#fffde0"/>
<rect x="593" y="323" width="1" height="24" fill="#000"/>
<rect x="592" y="323" width="4" height="18" fill="#000"/>
<rect x="593" y="324" width="2" height="16" fill="#fffde0"/>
<rect x="598" y="325" width="1" height="3" fill="#000"/>
<rect x="597" y="325" width="4" height="3" fill="#000"/>
<rect x="598" y="326" width="2" height="1" fill="#fffde0"/>
<rect x="602" y="322" width="1" height="8" fill="#000"/>
<rect x="601" y="322" width="4" height="8" fill="#000"/>
<rect x="602" y="323" width="2" height="6" fill="#fffde0"/>
<rect x="607" y="322" width="1" height="8" fill="#000"/>
<rect x="606" y="323" width="4" height="1" fill="#000"/>
<rect x="611" y="322" width="1" height="25" fill="#000"/>
<rect x="610" y="323" width="4" height="1" fill="#000"/>
<rect x="615" y="322" width="1" height="5" fill="#000"/>
<rect x="614" y="323" width="4" height="4" fill="#000"/>
<rect x="615" y="324" width="2" height="2" fill="#fffde0"/>
<rect x="620" y="321" width="1" height="2" fill="#000"/>
<rect x="619" y="321" width="4" height="1" fill="#000"/>
<rect x="624" y="321" width="1" height="2" fill="#000"/>
<rect x="623" y="321" width="4" height="1" fill="#000"/>
<rect x="629" y="315" width="1" height="15" fill="#000"/>
<rect x="628" y="315" width="4" height="15" fill="#000"/>
<rect x="629" y="316" width="2" height="13" fill="#fffde0"/>
<rect x="633" y="310" width="1" height="22" fill="#000"/>
<rect x="632" y="310" width="4" height="11" fill="#000"/>
<rect x="638" y="312" width="1" height="28" fill="#000"/>
<rect x="637" y="315" width="4" height="6" fill="#000"/>
<rect x="638" y="316" width="2" height="4" fill="#fffde0"/>
<rect x="642" y="261" width="1" height="60" fill="#000"/>
<rect x="641" y="261" width="4" height="60" fill="#000"/>
<rect x="642" y="262" width="2" height="58" fill="#fffde0"/>
<rect x="646" y="226" width="1" height="35" fill="#000"/>
<rect x="645" y="253" width="4" height="8" fill="#000"/>
<rect x="651" y="260" width="1" height="13" fill="#000"/>
<rect x="650" y="260" width="4" height="1" fill="#000"/>
<rect x="655" y="253" width="1" height="15" fill="#000"/>
<rect x="654" y="253" width="4" height="7" fill="#000"/>
<rect x="655" y="254" width="2" height="5" fill="#fffde0"/>
<rect x="660" y="256" width="1" height="13" fill="#000"/>
<rect x="659" y="256" width="4" height="3" fill="#000"/>
<rect x="660" y="257" width="2" height="1" fill="#fffde0"/>
<rect x="664" y="249" width="1" height="24" fill="#000"/>
<rect x="663" y="252" width="4" height="21" fill="#000"/>
<rect x="664" y="253" width="2" height="19" fill="#fffde0"/>
<rect x="669" y="193" width="1" height="59" fill="#000"/>
<rect x="668" y="196" width="4" height="56" fill="#000"/>
<rect x="669" y="197" width="2" height="54" fill="#fffde0"/>
<rect x="673" y="177" width="1" height="30" fill="#000"/>
<rect x="672" y="177" width="4" height="16" fill="#000"/>
<rect x="678" y="178" width="1" height="23" fill="#000"/>
<rect x="677" y="190" width="4" height="3" fill="#000"/>
<rect x="678" y="191" width="2" height="1" fill="#fffde0"/>
<rect x="682" y="185" width="1" height="16" fill="#000"/>
<rect x="681" y="192" width="4" height="6" fill="#000"/>
<rect x="682" y="193" width="2" height="4" fill="#fffde0"/>
<rect x="686" y="195" width="1" height="20" fill="#000"/>
<rect x="685" y="211" width="4" height="4" fill="#000"/>
<rect x="691" y="182" width="1" height="42" fill="#000"/>
<rect x="690" y="182" width="4" height="34" fill="#000"/>
<rect x="691" y="183" width="2" height="32" fill="#fffde0"/>
<rect x="695" y="168" width="1" height="58" fill="#000"/>
<rect x="694" y="168" width="4" height="38" fill="#000"/>
<rect x="695" y="169" width="2" height="36" fill="#fffde0"/>
<rect x="700" y="163" width="1" height="33" fill="#000"/>
<rect x="699" y="163" width="4" height="26" fill="#000"/>
<rect x="704" y="187" width="1" height="29" fill="#000"/>
<rect x="703" y="187" width="4" height="6" fill="#000"/>
<rect x="709" y="196" width="1" height="58" fill="#000"/>
<rect x="708" y="196" width="4" height="25" fill="#000"/>
<rect x="713" y="219" width="1" height="15" fill="#000"/>
<rect x="712" y="219" width="4" height="7" fill="#000"/>
<rect x="713" y="220" width="2" height="5" fill="#fffde0"/>
<rect x="717" y="193" width="1" height="26" fill="#000"/>
<rect x="716" y="204" width="4" height="15" fill="#000"/>
<rect x="717" y="205" width="2" height="13" fill="#fffde0"/>
<rect x="722" y="177" width="1" height="23" fill="#000"/>
<rect x="721" y="183" width="4" height="14" fill="#000"/>
<rect x="722" y="184" width="2" height="12" fill="#fffde0"/>
<rect x="726" y="182" width="1" height="12" fill="#000"/>
<rect x="725" y="182" width="4" height="4" fill="#000"/>
<rect x="731" y="187" width="1" height="20" fill="#000"/>
<rect x="730" y="188" width="4" height="5" fill="#000"/>
<rect x="731" y="189" width="2" height="3" fill="#fffde0"/>
<rect x="735" y="126" width="1" height="89" fill="#000"/>
<rect x="734" y="130" width="4" height="59" fill="#000"/>
<rect x="735" y="131" width="2" height="57" fill="#fffde0"/>
<rect x="740" y="102" width="1" height="29" fill="#000"/>
<rect x="739" y="116" width="4" height="15" fill="#000"/>
<rect x="740" y="117" width="2" height="13" fill="#fffde0"/>
<rect x="744" y="97" width="1" height="23" fill="#000"/>
<rect x="743" y="97" width="4" height="11" fill="#000"/>
<rect x="749" y="106" width="1" height="15" fill="#000"/>
<rect x="748" y="106" width="4" height="12" fill="#000"/>
<rect x="753" y="117" width="1" height="42" fill="#000"/>
<rect x="752" y="120" width="4" height="21" fill="#000"/>
<rect x="757" y="120" width="1" height="32" fill="#000"/>
<rect x="756" y="120" width="4" height="25" fill="#000"/>
<rect x="757" y="121" width="2" height="23" fill="#fffde0"/>
<rect x="762" y="120" width="1" height="36" fill="#000"/>
<rect x="761" y="120" width="4" height="1" fill="#000"/>
<rect x="766" y="139" width="1" height="20" fill="#000"/>
<rect x="765" y="139" width="4" height="20" fill="#000"/>
<rect x="771" y="163" width="1" height="19" fill="#000"/>
<rect x="770" y="163" width="4" height="16" fill="#000"/>
<rect x="775" y="174" width="1" height="6" fill="#000"/>
<rect x="774" y="177" width="4" height="3" fill="#000"/>
<rect x="780" y="178" width="1" height="5" fill="#000"/>
<rect x="779" y="179" width="4" height="4" fill="#000"/>
<rect x="780" y="180" width="2" height="2" fill="#fffde0"/>
<rect x="784" y="178" width="1" height="5" fill="#000"/>
<rect x="783" y="179" width="4" height="4" fill="#000"/>
<rect x="784" y="180" width="2" height="2" fill="#fffde0"/>
<rect x="788" y="170" width="1" height="9" fill="#000"/>
<rect x="787" y="177" width="4" height="1" fill="#000"/>
<rect x="793" y="159" width="1" height="21" fill="#000"/>
<rect x="792" y="177" width="4" height="3" fill="#000"/>
<rect x="797" y="149" width="1" height="25" fill="#000"/>
<rect x="796" y="149" width="4" height="25" fill="#000"/>
<rect x="797" y="150" width="2" height="23" fill="#fffde0"/>
<rect x="802" y="130" width="1" height="14" fill="#000"/>
<rect x="801" y="130" width="4" height="10" fill="#000"/>
<rect x="806" y="139" width="1" height="20" fill="#000"/>
<rect x="805" y="139" width="4" height="12" fill="#000"/>
<rect x="811" y="140" width="1" height="38" fill="#000"/>
<rect x="810" y="149" width="4" height="20" fill="#000"/>
<rect x="815" y="150" width="1" height="36" fill="#000"/>
<rect x="814" y="168" width="4" height="1" fill="#000"/>
<rect x="819" y="187" width="1" height="47" fill="#000"/>
<rect x="818" y="187" width="4" height="10" fill="#000"/>
<rect x="824" y="177" width="1" height="39" fill="#000"/>
<rect x="823" y="177" width="4" height="39" fill="#000"/>
<rect x="824" y="178" width="2" height="37" fill="#fffde0"/>
<rect x="828" y="169" width="1" height="24" fill="#000"/>
<rect x="827" y="169" width="4" height="18" fill="#000"/>
<rect x="828" y="170" width="2" height="16" fill="#fffde0"/>
<rect x="833" y="187" width="1" height="47" fill="#000"/>
<rect x="832" y="187" width="4" height="10" fill="#000"/>
<rect x="833" y="188" width="2" height="8" fill="#fffde0"/>
<rect x="837" y="206" width="1" height="39" fill="#000"/>
<rect x="836" y="206" width="4" height="1" fill="#000"/>
<rect x="842" y="187" width="1" height="47" fill="#000"/>
<rect x="841" y="187" width="4" height="25" fill="#000"/>
<rect x="846" y="206" width="1" height="46" fill="#000"/>
<rect x="845" y="206" width="4" height="39" fill="#000"/>
<rect x="846" y="207" width="2" height="37" fill="#fffde0"/>
<rect x="851" y="198" width="1" height="33" fill="#000"/>
<rect x="850" y="201" width="4" height="6" fill="#000"/>
<rect x="851" y="202" width="2" height="4" fill="#fffde0"/>
<rect x="855" y="211" width="1" height="39" fill="#000"/>
<rect x="854" y="211" width="4" height="5" fill="#000"/>
<rect x="859" y="214" width="1" height="33" fill="#000"/>
<rect x="858" y="215" width="4" height="17" fill="#000"/>
<rect x="864" y="232" width="1" height="40" fill="#000"/>
<rect x="863" y="234" width="4" height="7" fill="#000"/>
<rect x="868" y="240" width="1" height="32" fill="#000"/>
<rect x="867" y="240" width="4" height="1" fill="#000"/>
<rect x="873" y="228" width="1" height="22" fill="#000"/>
<rect x="872" y="232" width="4" height="9" fill="#000"/>
<rect x="877" y="236" width="1" height="14" fill="#000"/>
<rect x="876" y="239" width="4" height="6" fill="#000"/>
<rect x="877" y="240" width="2" height="4" fill="#fffde0"/>
<rect x="882" y="240" width="1" height="14" fill="#000"/>
<rect x="881" y="240" width="4" height="5" fill="#000"/>
<rect x="882" y="241" width="2" height="3" fill="#fffde0"/>
<rect x="886" y="242" width="1" height="21" fill="#000"/>
<rect x="885" y="242" width="4" height="1" fill="#000"/>
<rect x="890" y="243" width="1" height="11" fill="#000"/>
<rect x="889" y="243" width="4" height="11" fill="#000"/>
<rect x="890" y="244" width="2" height="9" fill="#fffde0"/>
<rect x="895" y="244" width="1" height="10" fill="#000"/>
<rect x="894" y="244" width="4" height="10" fill="#000"/>
<rect x="895" y="245" width="2" height="8" fill="#fffde0"/>
<rect x="899" y="244" width="1" height="19" fill="#000"/>
<rect x="898" y="244" width="4" height="1" fill="#000"/>
<rect x="904" y="234" width="1" height="20" fill="#000"/>
<rect x="903" y="234" width="4" height="20" fill="#000"/>
<rect x="904" y="235" width="2" height="18" fill="#fffde0"/>
<rect x="908" y="225" width="1" height="24" fill="#000"/>
<rect x="907" y="225" width="4" height="10" fill="#000"/>
<rect x="908" y="226" width="2" height="8" fill="#fffde0"/>
<rect x="913" y="226" width="1" height="28" fill="#000"/>
<rect x="912" y="244" width="4" height="10" fill="#000"/>
<rect x="913" y="245" width="2" height="8" fill="#fffde0"/>
<rect x="917" y="227" width="1" height="22" fill="#000"/>
<rect x="916" y="227" width="4" height="18" fill="#000"/>
<rect x="917" y="228" width="2" height="16" fill="#fffde0"/>
<rect x="922" y="221" width="1" height="32" fill="#000"/>
<rect x="921" y="221" width="4" height="24" fill="#000"/>
<rect x="922" y="222" width="2" height="22" fill="#fffde0"/>
<rect x="926" y="220" width="1" height="23" fill="#000"/>
<rect x="925" y="220" width="4" height="6" fill="#000"/>
<rect x="926" y="221" width="2" height="4" fill="#fffde0"/>
<rect x="930" y="221" width="1" height="13" fill="#000"/>
<rect x="929" y="224" width="4" height="3" fill="#000"/>
<rect x="935" y="222" width="1" height="2" fill="#000"/>
<rect x="934" y="222" width="4" height="1" fill="#000"/>
<rect x="939" y="222" width="1" height="12" fill="#000"/>
<rect x="938" y="222" width="4" height="1" fill="#000"/>
<rect x="944" y="217" width="1" height="5" fill="#000"/>
<rect x="943" y="217" width="4" height="5" fill="#000"/>
<rect x="944" y="218" width="2" height="3" fill="#fffde0"/>
<rect x="948" y="208" width="1" height="10" fill="#000"/>
<rect x="947" y="211" width="4" height="7" fill="#000"/>
<rect x="948" y="212" width="2" height="5" fill="#fffde0"/>
<rect x="953" y="202" width="1" height="18" fill="#000"/>
<rect x="952" y="202" width="4" height="12" fill="#000"/>
<rect x="957" y="213" width="1" height="14" fill="#000"/>
<rect x="956" y="225" width="4" height="1" fill="#000"/>
<rect x="961" y="212" width="1" height="18" fill="#000"/>
<rect x="960" y="212" width="4" height="10" fill="#000"/>
<rect x="966" y="224" width="1" height="19" fill="#000"/>
<rect x="965" y="224" width="4" height="12" fill="#000"/>
<rect x="970" y="225" width="1" height="15" fill="#000"/>
<rect x="969" y="225" width="4" height="15" fill="#000"/>
<rect x="970" y="226" width="2" height="13" fill="#fffde0"/>
<rect x="975" y="225" width="1" height="19" fill="#000"/>
<rect x="974" y="225" width="4" height="7" fill="#000"/>
<rect x="979" y="225" width="1" height="29" fill="#000"/>
<rect x="978" y="226" width="4" height="5" fill="#000"/>
<rect x="979" y="227" width="2" height="3" fill="#fffde0"/>
<rect x="984" y="230" width="1" height="15" fill="#000"/>
<rect x="983" y="230" width="4" height="5" fill="#000"/>
<rect x="988" y="230" width="1" height="5" fill="#000"/>
<rect x="987" y="230" width="4" height="5" fill="#000"/>
<rect x="988" y="231" width="2" height="3" fill="#fffde0"/>
<rect x="993" y="216" width="1" height="19" fill="#000"/>
<rect x="992" y="222" width="4" height="13" fill="#000"/>
<rect x="993" y="223" width="2" height="11" fill="#fffde0"/>
<rect x="997" y="213" width="1" height="9" fill="#000"/>
<rect x="996" y="220" width="4" height="1" fill="#000"/>
<rect x="1001" y="214" width="1" height="6" fill="#000"/>
<rect x="1000" y="214" width="4" height="1" fill="#000"/>
<rect x="1006" y="209" width="1" height="16" fill="#000"/>
<rect x="1005" y="212" width="4" height="1" fill="#000"/>
<rect x="1010" y="212" width="1" height="5" fill="#000"/>
<rect x="1009" y="213" width="4" height="4" fill="#000"/>
<rect x="1010" y="214" width="2" height="2" fill="#fffde0"/>
<rect x="1015" y="208" width="1" height="27" fill="#000"/>
<rect x="1014" y="208" width="4" height="27" fill="#000"/>
<rect x="1019" y="215" width="1" height="15" fill="#000"/>
<rect x="1018" y="216" width="4" height="12" fill="#000"/>
<rect x="1019" y="217" width="2" height="10" fill="#fffde0"/>
<rect x="1024" y="213" width="1" height="12" fill="#000"/>
<rect x="1023" y="215" width="4" height="1" fill="#000"/>
<rect x="1028" y="219" width="1" height="9" fill="#000"/>
<rect x="1027" y="219" width="4" height="9" fill="#000"/>
<rect x="1028" y="220" width="2" height="7" fill="#fffde0"/>
<rect x="1032" y="212" width="1" height="17" fill="#000"/>
<rect x="1031" y="221" width="4" height="1" fill="#000"/>
<rect x="1037" y="205" width="1" height="23" fill="#000"/>
<rect x="1036" y="205" width="4" height="12" fill="#000"/>
<rect x="1041" y="215" width="1" height="14" fill="#000"/>
<rect x="1040" y="215" width="4" height="6" fill="#000"/>
<rect x="1046" y="220" width="1" height="12" fill="#000"/>
<rect x="1045" y="221" width="4" height="4" fill="#000"/>
<rect x="1046" y="222" width="2" height="2" fill="#fffde0"/>
<rect x="1050" y="225" width="1" height="11" fill="#000"/>
<rect x="1049" y="225" width="4" height="11" fill="#000"/>
<rect x="1055" y="235" width="1" height="10" fill="#000"/>
<rect x="1054" y="235" width="4" height="4" fill="#000"/>
<rect x="1055" y="236" width="2" height="2" fill="#fffde0"/>
<rect x="1059" y="227" width="1" height="18" fill="#000"/>
<rect x="1058" y="235" width="4" height="5" fill="#000"/>
<rect x="1059" y="236" width="2" height="3" fill="#fffde0"/>
<rect x="1064" y="217" width="1" height="37" fill="#000"/>
<rect x="1063" y="217" width="4" height="19" fill="#000"/>
<rect x="1064" y="218" width="2" height="17" fill="#fffde0"/>
<rect x="1068" y="212" width="1" height="7" fill="#000"/>
<rect x="1067" y="217" width="4" height="1" fill="#000"/>
<rect x="1072" y="217" width="1" height="18" fill="#000"/>
<rect x="1071" y="217" width="4" height="18" fill="#000"/>
<rect x="1072" y="218" width="2" height="16" fill="#fffde0"/>
<rect x="1077" y="218" width="1" height="16" fill="#000"/>
<rect x="1076" y="218" width="4" height="6" fill="#000"/>
<rect x="1077" y="219" width="2" height="4" fill="#fffde0"/>
<rect x="1081" y="219" width="1" height="24" fill="#000"/>
<rect x="1080" y="219" width="4" height="16" fill="#000"/>
<rect x="1081" y="220" width="2" height="14" fill="#fffde0"/>
<rect x="1086" y="219" width="1" height="26" fill="#000"/>
<rect x="1085" y="219" width="4" height="8" fill="#000"/>
<rect x="1090" y="219" width="1" height="16" fill="#000"/>
<rect x="1089" y="219" width="4" height="16" fill="#000"/>
<rect x="1090" y="220" width="2" height="14" fill="#fffde0"/>
<rect x="1095" y="216" width="1" height="10" fill="#000"/>
<rect x="1094" y="221" width="4" height="1" fill="#000"/>
<rect x="1099" y="220" width="1" height="15" fill="#000"/>
<rect x="1098" y="221" width="4" height="5" fill="#000"/>
<rect x="1099" y="222" width="2" height="3" fill="#fffde0"/>
<rect x="1103" y="219" width="1" height="10" fill="#000"/>
<rect x="1102" y="222" width="4" height="1" fill="#000"/>
<rect x="1108" y="217" width="1" height="18" fill="#000"/>
<rect x="1107" y="226" width="4" height="9" fill="#000"/>
<rect x="1108" y="227" width="2" height="7" fill="#fffde0"/>
<rect x="1112" y="217" width="1" height="26" fill="#000"/>
<rect x="1111" y="217" width="4" height="18" fill="#000"/>
<rect x="1112" y="218" width="2" height="16" fill="#fffde0"/>
<rect x="1117" y="216" width="1" height="15" fill="#000"/>
<rect x="1116" y="216" width="4" height="15" fill="#000"/>
<rect x="1121" y="219" width="1" height="12" fill="#000"/>
<rect x="1120" y="219" width="4" height="12" fill="#000"/>
<rect x="1121" y="220" width="2" height="10" fill="#fffde0"/>
<rect x="1126" y="219" width="1" height="6" fill="#000"/>
<rect x="1125" y="219" width="4" height="3" fill="#000"/>
<rect x="1130" y="219" width="1" height="8" fill="#000"/>
<rect x="1129" y="219" width="4" height="8" fill="#000"/>
<rect x="1130" y="220" width="2" height="6" fill="#fffde0"/>
<rect x="1135" y="188" width="1" height="28" fill="#000"/>
<rect x="1134" y="188" width="4" height="10" fill="#000"/>
<rect x="1135" y="189" width="2" height="8" fill="#fffde0"/>
<rect x="1139" y="188" width="1" height="13" fill="#000"/>
<rect x="1138" y="188" width="4" height="1" fill="#000"/>
<rect x="1143" y="182" width="1" height="13" fill="#000"/>
<rect x="1142" y="188" width="4" height="5" fill="#000"/>
<rect x="1148" y="192" width="1" height="16" fill="#000"/>
<rect x="1147" y="201" width="4" height="7" fill="#000"/>
<rect x="1152" y="201" width="1" height="15" fill="#000"/>
<rect x="1151" y="201" width="4" height="15" fill="#000"/>
<rect x="1152" y="202" width="2" height="13" fill="#fffde0"/>
<rect x="1157" y="197" width="1" height="3" fill="#000"/>
<rect x="1156" y="197" width="4" height="3" fill="#000"/>
<rect x="1161" y="198" width="1" height="23" fill="#000"/>
<rect x="1160" y="198" width="4" height="11" fill="#000"/>
<rect x="1166" y="189" width="1" height="31" fill="#000"/>
<rect x="1165" y="189" width="4" height="31" fill="#000"/>
<rect x="1166" y="190" width="2" height="29" fill="#fffde0"/>
<rect x="1170" y="189" width="1" height="12" fill="#000"/>
<rect x="1169" y="189" width="4" height="1" fill="#000"/>
<rect x="1174" y="189" width="1" height="8" fill="#000"/>
<rect x="1173" y="189" width="4" height="8" fill="#000"/>
<rect x="1179" y="193" width="1" height="5" fill="#000"/>
<rect x="1178" y="193" width="4" height="5" fill="#000"/>
<rect x="1179" y="194" width="2" height="3" fill="#fffde0"/>
<rect x="1183" y="149" width="1" height="44" fill="#000"/>
<rect x="1182" y="149" width="4" height="44" fill="#000"/>
<rect x="1183" y="150" width="2" height="42" fill="#fffde0"/>
<rect x="1188" y="111" width="1" height="39" fill="#000"/>
<rect x="1187" y="111" width="4" height="30" fill="#000"/>
<rect x="1192" y="140" width="1" height="11" fill="#000"/>
<rect x="1191" y="144" width="4" height="7" fill="#000"/>
<rect x="1192" y="145" width="2" height="5" fill="#fffde0"/>
<rect x="1197" y="140" width="1" height="11" fill="#000"/>
<rect x="1196" y="144" width="4" height="7" fill="#000"/>
<rect x="1197" y="145" width="2" height="5" fill="#fffde0"/>
<rect x="1201" y="139" width="1" height="15" fill="#000"/>
<rect x="1200" y="139" width="4" height="11" fill="#000"/>
<rect x="1201" y="140" width="2" height="9" fill="#fffde0"/>
<rect x="1206" y="102" width="1" height="48" fill="#000"/>
<rect x="1205" y="111" width="4" height="30" fill="#000"/>
<rect x="1206" y="112" width="2" height="28" fill="#fffde0"/>
<rect x="1210" y="111" width="1" height="23" fill="#000"/>
<rect x="1209" y="112" width="4" height="6" fill="#000"/>
<rect x="1210" y="113" width="2" height="4" fill="#fffde0"/>
<rect x="1214" y="107" width="1" height="44" fill="#000"/>
<rect x="1213" y="111" width="4" height="11" fill="#000"/>
<rect x="1219" y="112" width="1" height="28" fill="#000"/>
<rect x="1218" y="122" width="4" height="10" fill="#000"/>
<rect x="1223" y="120" width="1" height="25" fill="#000"/>
<rect x="1222" y="120" width="4" height="12" fill="#000"/>
<rect x="1228" y="131" width="1" height="23" fill="#000"/>
<rect x="1227" y="139" width="4" height="1" fill="#000"/>
<rect x="1232" y="130" width="1" height="33" fill="#000"/>
<rect x="1231" y="130" width="4" height="20" fill="#000"/>
<rect x="1232" y="131" width="2" height="18" fill="#fffde0"/>
<rect x="1237" y="111" width="1" height="29" fill="#000"/>
<rect x="1236" y="111" width="4" height="20" fill="#000"/>
<rect x="1237" y="112" width="2" height="18" fill="#fffde0"/>
<rect x="1241" y="92" width="1" height="48" fill="#000"/>
<rect x="1240" y="92" width="4" height="44" fill="#000"/>
<rect x="1241" y="93" width="2" height="42" fill="#fffde0"/>
<rect x="1245" y="55" width="1" height="61" fill="#000"/>
<rect x="1244" y="92" width="4" height="1" fill="#000"/>
<rect x="1250" y="92" width="1" height="48" fill="#000"/>
<rect x="1249" y="92" width="4" height="20" fill="#000"/>
<rect x="1254" y="93" width="1" height="37" fill="#000"/>
<rect x="1253" y="102" width="4" height="1" fill="#000"/>
<rect x="1259" y="92" width="1" height="67" fill="#000"/>
<rect x="1258" y="92" width="4" height="20" fill="#000"/>
<rect x="1259" y="93" width="2" height="18" fill="#fffde0"/>
<rect x="1263" y="27" width="1" height="99" fill="#000"/>
<rect x="1262" y="35" width="4" height="77" fill="#000"/>
<rect x="1263" y="36" width="2" height="75" fill="#fffde0"/>
</g>
<g shape-rendering="crispEdges" fill="none" stroke="#ff0000" stroke-width="1" stroke-dasharray="3 3">
<polyline points="575.8,348.2 577.6,345.2 579.5,342.8 585.0,331.8 592.0,321.9 596.0,317.4 603.0,305.9 608.0,298.6 619.9,277.7 631.9,259.7 646.9,238.8 659.8,218.9 669.8,202.9 679.8,187.9 689.7,172.4 692.8,168.0 698.3,159.0 706.6,145.2 714.8,132.8 721.8,123.1 726.6,117.6"/>
<polyline points="745.0,99.7 745.2,117.6 749.4,135.6 754.9,150.7 761.8,163.2 768.7,174.2 773.8,183.5 782.0,193.2 791.8,202.8 800.0,209.7 804.0,212.8 816.6,223.1 834.5,234.2 851.0,242.5 869.0,250.0 882.8,254.9 896.6,258.7 910.4,261.8 920.0,264.0 927.6,265.1 955.0,268.9 982.8,269.2 1014.0,267.1 1020.0,266.4 1044.5,262.3 1065.2,256.8 1086.0,249.2 1106.6,240.2 1116.0,235.2 1130.0,226.4 1139.5,220.7 1157.4,207.6 1176.7,186.9 1180.9,180.7 1187.4,172.3 1196.0,155.1 1202.0,144.0 1205.8,131.8 1207.6,119.5 1208.8,108.5 1209.4,103.6"/>
<polyline points="1209.2,104.0 1208.8,117.0 1209.4,131.8 1211.3,142.9 1215.0,150.2 1219.3,157.6 1224.2,163.7 1229.0,167.4 1234.0,168.6 1240.1,167.4 1246.3,163.1 1251.2,156.3 1254.8,149.0 1258.5,138.0 1261.0,126.9 1262.8,115.9 1263.4,108.5"/>
</g>
<polygon points="736.5,101.5 724,112.4 732.6,117.4" fill="#ff0000" shape-rendering="crispEdges"/>
<text x="935 944 951 961 968 975 985 992 999 1006 1013 1016" y="130" fill="#ff0000">Cupandhandle</text>
<g shape-rendering="crispEdges">
<ellipse cx="1269.8" cy="488.3" rx="10.8" ry="29.5" fill="#ffb9a9" stroke="#ff0000" stroke-width="1" stroke-dasharray="3 3"/>
<rect x="1256" y="456" width="6" height="6" fill="#ff0000"/>
<rect x="1278" y="515" width="6" height="6" fill="#ff0000"/>
<rect x="8" y="546" width="2" height="25" fill="#ff0000"/>
<rect x="12" y="522" width="2" height="49" fill="#008000"/>
<rect x="16" y="529" width="2" height="42" fill="#008000"/>
<rect x="21" y="521" width="2" height="50" fill="#008000"/>
<rect x="25" y="537" width="2" height="34" fill="#008000"/>
<rect x="30" y="543" width="2" height="28" fill="#008000"/>
<rect x="34" y="544" width="2" height="27" fill="#008000"/>
<rect x="39" y="496" width="2" height="75" fill="#ff0000"/>
<rect x="43" y="535" width="2" height="36" fill="#ff0000"/>
<rect x="47" y="471" width="2" height="100" fill="#ff0000"/>
<rect x="52" y="481" width="2" height="90" fill="#008000"/>
<rect x="56" y="512" width="2" height="59" fill="#ff0000"/>
<rect x="61" y="545" width="2" height="26" fill="#ff0000"/>
<rect x="65" y="557" width="2" height="14" fill="#008000"/>
<rect x="70" y="561" width="2" height="10" fill="#ff0000"/>
<rect x="74" y="547" width="2" height="24" fill="#ff0000"/>
<rect x="78" y="545" width="2" height="26" fill="#008000"/>
<rect x="83" y="531" width="2" height="40" fill="#ff0000"/>
<rect x="87" y="537" width="2" height="34" fill="#ff0000"/>
<rect x="92" y="544" width="2" height="27" fill="#ff0000"/>
<rect x="96" y="550" width="2" height="21" fill="#ff0000"/>
<rect x="101" y="543" width="2" height="28" fill="#008000"/>
<rect x="105" y="544" width="2" height="27" fill="#008000"/>
<rect x="110" y="545" width="2" height="26" fill="#008000"/>
<rect x="114" y="538" width="2" height="33" fill="#ff0000"/>
<rect x="118" y="546" width="2" height="25" fill="#ff0000"/>
<rect x="123" y="549" width="2" height="22" fill="#ff0000"/>
<rect x="127" y="541" width="2" height="30" fill="#008000"/>
<rect x="132" y="546" width="2" height="25" fill="#008000"/>
<rect x="136" y="547" width="2" height="24" fill="#ff0000"/>
<rect x="141" y="567" width="2" height="4" fill="#008000"/>
<rect x="145" y="549" width="2" height="22" fill="#ff0000"/>
<rect x="149" y="534" width="2" height="37" fill="#ff0000"/>
<rect x="154" y="562" width="2" height="9" fill="#008000"/>
<rect x="158" y="559" width="2" height="12" fill="#ff0000"/>
<rect x="163" y="545" width="2" height="26" fill="#008000"/>
<rect x="167" y="530" width="2" height="41" fill="#ff0000"/>
<rect x="172" y="543" width="2" height="28" fill="#ff0000"/>
<rect x="176" y="529" width="2" height="42" fill="#ff0000"/>
<rect x="181" y="555" width="2" height="16" fill="#ff0000"/>
<rect x="185" y="555" width="2" height="16" fill="#008000"/>
<rect x="189" y="554" width="2" height="17" fill="#008000"/>
<rect x="194" y="543" width="2" height="28" fill="#008000"/>
<rect x="198" y="553" width="2" height="18" fill="#008000"/>
<rect x="203" y="567" width="2" height="4" fill="#ff0000"/>
<rect x="207" y="559" width="2" height="12" fill="#ff0000"/>
<rect x="212" y="562" width="2" height="9" fill="#ff0000"/>
<rect x="216" y="549" width="2" height="22" fill="#008000"/>
<rect x="220" y="536" width="2" height="35" fill="#ff0000"/>
<rect x="225" y="545" width="2" height="26" fill="#ff0000"/>
<rect x="229" y="565" width="2" height="6" fill="#008000"/>
<rect x="234" y="560" width="2" height="11" fill="#ff0000"/>
<rect x="238" y="561" width="2" height="10" fill="#008000"/>
<rect x="243" y="556" width="2" height="15" fill="#008000"/>
<rect x="247" y="561" width="2" height="10" fill="#008000"/>
<rect x="252" y="557" width="2" height="14" fill="#008000"/>
<rect x="256" y="564" width="2" height="7" fill="#008000"/>
<rect x="260" y="565" width="2" height="6" fill="#008000"/>
<rect x="265" y="561" width="2" height="10" fill="#008000"/>
<rect x="269" y="554" width="2" height="17" fill="#ff0000"/>
<rect x="274" y="558" width="2" height="13" fill="#008000"/>
<rect x="278" y="555" width="2" height="16" fill="#ff0000"/>
<rect x="283" y="554" width="2" height="17" fill="#008000"/>
<rect x="287" y="557" width="2" height="14" fill="#008000"/>
<rect x="291" y="560" width="2" height="11" fill="#008000"/>
<rect x="296" y="556" width="2" height="15" fill="#008000"/>
<rect x="300" y="546" width="2" height="25" fill="#008000"/>
<rect x="305" y="557" width="2" height="14" fill="#ff0000"/>
<rect x="309" y="544" width="2" height="27" fill="#ff0000"/>
<rect x="314" y="553" width="2" height="18" fill="#ff0000"/>
<rect x="318" y="562" width="2" height="9" fill="#008000"/>
<rect x="323" y="561" width="2" height="10" fill="#008000"/>
<rect x="327" y="556" width="2" height="15" fill="#008000"/>
<rect x="331" y="554" width="2" height="17" fill="#008000"/>
<rect x="336" y="553" width="2" height="18" fill="#008000"/>
<rect x="340" y="553" width="2" height="18" fill="#ff0000"/>
<rect x="345" y="535" width="2" height="36" fill="#008000"/>
<rect x="349" y="564" width="2" height="7" fill="#ff0000"/>
<rect x="354" y="546" width="2" height="25" fill="#008000"/>
<rect x="358" y="553" width="2" height="18" fill="#008000"/>
<rect x="362" y="536" width="2" height="35" fill="#008000"/>
<rect x="367" y="554" width="2" height="17" fill="#ff0000"/>
<rect x="371" y="553" width="2" height="18" fill="#ff0000"/>
<rect x="376" y="542" width="2" height="29" fill="#008000"/>
<rect x="380" y="562" width="2" height="9" fill="#008000"/>
<rect x="385" y="548" width="2" height="23" fill="#ff0000"/>
<rect x="389" y="474" width="2" height="97" fill="#ff0000"/>
<rect x="394" y="555" width="2" height="16" fill="#008000"/>
<rect x="398" y="557" width="2" height="14" fill="#ff0000"/>
<rect x="402" y="543" width="2" height="28" fill="#ff0000"/>
<rect x="407" y="558" width="2" height="13" fill="#008000"/>
<rect x="411" y="552" width="2" height="19" fill="#008000"/>
<rect x="416" y="557" width="2" height="14" fill="#008000"/>
<rect x="420" y="536" width="2" height="35" fill="#008000"/>
<rect x="425" y="534" width="2" height="37" fill="#ff0000"/>
<rect x="429" y="503" width="2" height="68" fill="#ff0000"/>
<rect x="433" y="503" width="2" height="68" fill="#ff0000"/>
<rect x="438" y="563" width="2" height="8" fill="#008000"/>
<rect x="442" y="536" width="2" height="35" fill="#008000"/>
<rect x="447" y="533" width="2" height="38" fill="#ff0000"/>
<rect x="451" y="535" width="2" height="36" fill="#008000"/>
<rect x="456" y="541" width="2" height="30" fill="#008000"/>
<rect x="460" y="562" width="2" height="9" fill="#ff0000"/>
<rect x="465" y="499" width="2" height="72" fill="#ff0000"/>
<rect x="469" y="502" width="2" height="69" fill="#ff0000"/>
<rect x="473" y="509" width="2" height="62" fill="#008000"/>
<rect x="478" y="568" width="2" height="3" fill="#008000"/>
<rect x="482" y="497" width="2" height="74" fill="#ff0000"/>
<rect x="487" y="561" width="2" height="10" fill="#008000"/>
<rect x="491" y="564" width="2" height="7" fill="#ff0000"/>
<rect x="496" y="537" width="2" height="34" fill="#008000"/>
<rect x="500" y="561" width="2" height="10" fill="#ff0000"/>
<rect x="504" y="498" width="2" height="73" fill="#ff0000"/>
<rect x="509" y="546" width="2" height="25" fill="#ff0000"/>
<rect x="513" y="564" width="2" height="7" fill="#008000"/>
<rect x="518" y="556" width="2" height="15" fill="#ff0000"/>
<rect x="522" y="543" width="2" height="28" fill="#008000"/>
<rect x="527" y="552" width="2" height="19" fill="#008000"/>
<rect x="531" y="538" width="2" height="33" fill="#ff0000"/>
<rect x="536" y="552" width="2" height="19" fill="#008000"/>
<rect x="540" y="551" width="2" height="20" fill="#008000"/>
<rect x="544" y="551" width="2" height="20" fill="#008000"/>
<rect x="549" y="554" width="2" height="17" fill="#008000"/>
<rect x="553" y="552" width="2" height="19" fill="#008000"/>
<rect x="558" y="563" width="2" height="8" fill="#ff0000"/>
<rect x="562" y="568" width="2" height="3" fill="#008000"/>
<rect x="567" y="566" width="2" height="5" fill="#008000"/>
<rect x="571" y="556" width="2" height="15" fill="#008000"/>
<rect x="575" y="557" width="2" height="14" fill="#008000"/>
<rect x="580" y="570" width="2" height="1" fill="#ff0000"/>
<rect x="584" y="534" width="2" height="37" fill="#008000"/>
<rect x="589" y="568" width="2" height="3" fill="#008000"/>
<rect x="593" y="556" width="2" height="15" fill="#008000"/>
<rect x="598" y="505" width="2" height="66" fill="#008000"/>
<rect x="602" y="562" width="2" height="9" fill="#008000"/>
<rect x="607" y="559" width="2" height="12" fill="#ff0000"/>
<rect x="611" y="560" width="2" height="11" fill="#008000"/>
<rect x="615" y="564" width="2" height="7" fill="#008000"/>
<rect x="620" y="501" width="2" height="70" fill="#008000"/>
<rect x="624" y="560" width="2" height="11" fill="#ff0000"/>
<rect x="629" y="549" width="2" height="22" fill="#008000"/>
<rect x="633" y="562" width="2" height="9" fill="#ff0000"/>
<rect x="638" y="493" width="2" height="78" fill="#008000"/>
<rect x="642" y="547" width="2" height="24" fill="#008000"/>
<rect x="646" y="549" width="2" height="22" fill="#ff0000"/>
<rect x="651" y="554" width="2" height="17" fill="#ff0000"/>
<rect x="655" y="549" width="2" height="22" fill="#008000"/>
<rect x="660" y="557" width="2" height="14" fill="#008000"/>
<rect x="664" y="509" width="2" height="62" fill="#008000"/>
<rect x="669" y="490" width="2" height="81" fill="#008000"/>
<rect x="673" y="545" width="2" height="26" fill="#ff0000"/>
<rect x="678" y="553" width="2" height="18" fill="#008000"/>
<rect x="682" y="546" width="2" height="25" fill="#008000"/>
<rect x="686" y="526" width="2" height="45" fill="#ff0000"/>
<rect x="691" y="558" width="2" height="13" fill="#008000"/>
<rect x="695" y="490" width="2" height="81" fill="#008000"/>
<rect x="700" y="529" width="2" height="42" fill="#ff0000"/>
<rect x="704" y="540" width="2" height="31" fill="#ff0000"/>
<rect x="709" y="529" width="2" height="42" fill="#ff0000"/>
<rect x="713" y="542" width="2" height="29" fill="#008000"/>
<rect x="717" y="513" width="2" height="58" fill="#008000"/>
<rect x="722" y="545" width="2" height="26" fill="#008000"/>
<rect x="726" y="545" width="2" height="26" fill="#ff0000"/>
<rect x="731" y="506" width="2" height="65" fill="#008000"/>
<rect x="735" y="453" width="2" height="118" fill="#008000"/>
<rect x="740" y="495" width="2" height="76" fill="#008000"/>
<rect x="744" y="535" width="2" height="36" fill="#ff0000"/>
<rect x="749" y="531" width="2" height="40" fill="#ff0000"/>
<rect x="753" y="507" width="2" height="64" fill="#ff0000"/>
<rect x="757" y="547" width="2" height="24" fill="#008000"/>
<rect x="762" y="526" width="2" height="45" fill="#ff0000"/>
<rect x="766" y="527" width="2" height="44" fill="#ff0000"/>
<rect x="771" y="521" width="2" height="50" fill="#ff0000"/>
<rect x="775" y="535" width="2" height="36" fill="#ff0000"/>
<rect x="780" y="542" width="2" height="29" fill="#008000"/>
<rect x="784" y="542" width="2" height="29" fill="#008000"/>
<rect x="788" y="532" width="2" height="39" fill="#ff0000"/>
<rect x="793" y="549" width="2" height="22" fill="#008000"/>
<rect x="797" y="547" width="2" height="24" fill="#008000"/>
<rect x="802" y="557" width="2" height="14" fill="#ff0000"/>
<rect x="806" y="550" width="2" height="21" fill="#ff0000"/>
<rect x="811" y="538" width="2" height="33" fill="#ff0000"/>
<rect x="815" y="518" width="2" height="53" fill="#ff0000"/>
<rect x="819" y="483" width="2" height="88" fill="#ff0000"/>
<rect x="824" y="560" width="2" height="11" fill="#008000"/>
<rect x="828" y="555" width="2" height="16" fill="#008000"/>
<rect x="833" y="453" width="2" height="118" fill="#008000"/>
<rect x="837" y="460" width="2" height="111" fill="#ff0000"/>
<rect x="842" y="481" width="2" height="90" fill="#ff0000"/>
<rect x="846" y="512" width="2" height="59" fill="#008000"/>
<rect x="851" y="541" width="2" height="30" fill="#008000"/>
<rect x="855" y="496" width="2" height="75" fill="#ff0000"/>
<rect x="859" y="499" width="2" height="72" fill="#ff0000"/>
<rect x="864" y="506" width="2" height="65" fill="#ff0000"/>
<rect x="868" y="513" width="2" height="58" fill="#ff0000"/>
<rect x="873" y="506" width="2" height="65" fill="#ff0000"/>
<rect x="877" y="516" width="2" height="55" fill="#008000"/>
<rect x="882" y="493" width="2" height="78" fill="#008000"/>
<rect x="886" y="521" width="2" height="50" fill="#ff0000"/>
<rect x="890" y="544" width="2" height="27" fill="#008000"/>
<rect x="895" y="542" width="2" height="29" fill="#008000"/>
<rect x="899" y="553" width="2" height="18" fill="#ff0000"/>
<rect x="904" y="532" width="2" height="39" fill="#008000"/>
<rect x="908" y="550" width="2" height="21" fill="#008000"/>
<rect x="913" y="533" width="2" height="38" fill="#008000"/>
<rect x="917" y="538" width="2" height="33" fill="#008000"/>
<rect x="922" y="547" width="2" height="24" fill="#008000"/>
<rect x="926" y="526" width="2" height="45" fill="#008000"/>
<rect x="930" y="552" width="2" height="19" fill="#008000"/>
<rect x="935" y="551" width="2" height="20" fill="#ff0000"/>
<rect x="939" y="554" width="2" height="17" fill="#008000"/>
<rect x="944" y="547" width="2" height="24" fill="#008000"/>
<rect x="948" y="557" width="2" height="14" fill="#008000"/>
<rect x="953" y="548" width="2" height="23" fill="#ff0000"/>
<rect x="957" y="549" width="2" height="22" fill="#ff0000"/>
<rect x="961" y="546" width="2" height="25" fill="#ff0000"/>
<rect x="966" y="540" width="2" height="31" fill="#ff0000"/>
<rect x="970" y="558" width="2" height="13" fill="#008000"/>
<rect x="975" y="551" width="2" height="20" fill="#ff0000"/>
<rect x="979" y="541" width="2" height="30" fill="#008000"/>
<rect x="984" y="551" width="2" height="20" fill="#ff0000"/>
<rect x="988" y="549" width="2" height="22" fill="#ff0000"/>
<rect x="993" y="530" width="2" height="41" fill="#008000"/>
<rect x="997" y="551" width="2" height="20" fill="#008000"/>
<rect x="1001" y="545" width="2" height="26" fill="#ff0000"/>
<rect x="1006" y="546" width="2" height="25" fill="#ff0000"/>
<rect x="1010" y="550" width="2" height="21" fill="#008000"/>
<rect x="1015" y="509" width="2" height="62" fill="#ff0000"/>
<rect x="1019" y="519" width="2" height="52" fill="#008000"/>
<rect x="1024" y="517" width="2" height="54" fill="#ff0000"/>
<rect x="1028" y="540" width="2" height="31" fill="#008000"/>
<rect x="1032" y="497" width="2" height="74" fill="#ff0000"/>
<rect x="1037" y="555" width="2" height="16" fill="#ff0000"/>
<rect x="1041" y="550" width="2" height="21" fill="#ff0000"/>
<rect x="1046" y="550" width="2" height="21" fill="#008000"/>
<rect x="1050" y="502" width="2" height="69" fill="#ff0000"/>
<rect x="1055" y="480" width="2" height="91" fill="#008000"/>
<rect x="1059" y="484" width="2" height="87" fill="#008000"/>
<rect x="1064" y="524" width="2" height="47" fill="#008000"/>
<rect x="1068" y="549" width="2" height="22" fill="#008000"/>
<rect x="1072" y="554" width="2" height="17" fill="#008000"/>
<rect x="1077" y="555" width="2" height="16" fill="#008000"/>
<rect x="1081" y="557" width="2" height="14" fill="#008000"/>
<rect x="1086" y="539" width="2" height="32" fill="#ff0000"/>
<rect x="1090" y="550" width="2" height="21" fill="#008000"/>
<rect x="1095" y="533" width="2" height="38" fill="#ff0000"/>
<rect x="1099" y="560" width="2" height="11" fill="#008000"/>
<rect x="1103" y="558" width="2" height="13" fill="#ff0000"/>
<rect x="1108" y="523" width="2" height="48" fill="#008000"/>
<rect x="1112" y="546" width="2" height="25" fill="#008000"/>
<rect x="1117" y="559" width="2" height="12" fill="#ff0000"/>
<rect x="1121" y="519" width="2" height="52" fill="#008000"/>
<rect x="1126" y="488" width="2" height="83" fill="#ff0000"/>
<rect x="1130" y="540" width="2" height="31" fill="#008000"/>
<rect x="1135" y="543" width="2" height="28" fill="#008000"/>
<rect x="1139" y="550" width="2" height="21" fill="#008000"/>
<rect x="1143" y="560" width="2" height="11" fill="#ff0000"/>
<rect x="1148" y="539" width="2" height="32" fill="#ff0000"/>
<rect x="1152" y="561" width="2" height="10" fill="#008000"/>
<rect x="1157" y="547" width="2" height="24" fill="#ff0000"/>
<rect x="1161" y="554" width="2" height="17" fill="#ff0000"/>
<rect x="1166" y="555" width="2" height="16" fill="#008000"/>
<rect x="1170" y="556" width="2" height="15" fill="#ff0000"/>
<rect x="1174" y="563" width="2" height="8" fill="#ff0000"/>
<rect x="1179" y="538" width="2" height="33" fill="#008000"/>
<rect x="1183" y="518" width="2" height="53" fill="#008000"/>
<rect x="1188" y="521" width="2" height="50" fill="#ff0000"/>
<rect x="1192" y="534" width="2" height="37" fill="#008000"/>
<rect x="1197" y="521" width="2" height="50" fill="#008000"/>
<rect x="1201" y="557" width="2" height="14" fill="#008000"/>
<rect x="1206" y="546" width="2" height="25" fill="#008000"/>
<rect x="1210" y="542" width="2" height="29" fill="#008000"/>
<rect x="1214" y="537" width="2" height="34" fill="#ff0000"/>
<rect x="1219" y="552" width="2" height="19" fill="#ff0000"/>
<rect x="1223" y="542" width="2" height="29" fill="#ff0000"/>
<rect x="1228" y="551" width="2" height="20" fill="#ff0000"/>
<rect x="1232" y="550" width="2" height="21" fill="#008000"/>
<rect x="1237" y="548" width="2" height="23" fill="#008000"/>
<rect x="1241" y="543" width="2" height="28" fill="#008000"/>
<rect x="1245" y="496" width="2" height="75" fill="#ff0000"/>
<rect x="1250" y="532" width="2" height="39" fill="#ff0000"/>
<rect x="1254" y="538" width="2" height="33" fill="#ff0000"/>
<rect x="1259" y="500" width="2" height="71" fill="#008000"/>
<rect x="1263" y="465" width="2" height="106" fill="#008000"/>
<polyline points="8.5,542.2 12.5,541.9 16.5,541.6 21.5,541.2 25.5,541.0 30.5,540.6 34.5,540.0 39.5,538.9 43.5,538.1 47.5,537.2 52.5,536.2 56.5,535.5 61.5,534.6 65.5,534.2 70.5,534.4 74.5,534.5 78.5,534.6 83.5,534.7 87.5,534.8 92.5,534.9 96.5,535.0 101.5,535.4 105.5,535.8 110.5,536.3 114.5,536.7 118.5,536.9 123.5,536.7 127.5,536.6 132.5,536.3 136.5,536.3 141.5,537.3 145.5,538.1 149.5,538.6 154.5,538.6 158.5,538.6 163.5,538.5 167.5,538.5 172.5,538.5 176.5,538.5 181.5,538.5 185.5,538.4 189.5,538.4 194.5,538.5 198.5,538.8 203.5,539.2 207.5,539.5 212.5,539.9 216.5,540.2 220.5,540.4 225.5,540.8 229.5,541.1 234.5,541.8 238.5,542.4 243.5,543.1 247.5,543.7 252.5,544.4 256.5,545.3 260.5,546.1 265.5,547.2 269.5,548.3 274.5,550.0 278.5,550.5 283.5,550.6 287.5,550.6 291.5,550.6 296.5,550.7 300.5,550.7 305.5,551.2 309.5,551.6 314.5,552.1 318.5,552.5 323.5,552.9 327.5,552.9 331.5,552.9 336.5,552.8 340.5,552.8 345.5,552.8 349.5,552.8 354.5,552.8 358.5,552.8 362.5,552.7 367.5,552.7 371.5,552.7 376.5,552.7 380.5,552.7 385.5,552.6 389.5,552.6 394.5,552.6 398.5,552.6 402.5,552.7 407.5,552.8 411.5,552.8 416.5,552.8 420.5,552.3 425.5,551.6 429.5,551.1 433.5,550.8 438.5,550.4 442.5,550.1 447.5,549.8 451.5,549.5 456.5,549.1 460.5,548.8 465.5,546.8 469.5,546.0 473.5,545.3 478.5,544.6 482.5,544.3 487.5,544.0 491.5,543.9 496.5,543.8 500.5,543.7 504.5,543.6 509.5,543.5 513.5,543.4 518.5,543.2 522.5,543.1 527.5,543.0 531.5,542.9 536.5,542.8 540.5,542.7 544.5,542.6 549.5,542.5 553.5,542.4 558.5,542.3 562.5,542.9 567.5,543.1 571.5,543.1 575.5,543.1 580.5,543.1 584.5,543.1 589.5,543.1 593.5,543.1 598.5,543.1 602.5,543.1 607.5,543.7 611.5,544.7 615.5,544.6 620.5,544.4 624.5,544.2 629.5,544.0 633.5,543.9 638.5,543.7 642.5,544.1 646.5,544.8 651.5,545.7 655.5,545.6 660.5,545.2 664.5,544.9 669.5,544.6 673.5,544.5 678.5,544.5 682.5,544.6 686.5,544.6 691.5,544.6 695.5,544.6 700.5,544.7 704.5,544.7 709.5,544.7 713.5,544.7 717.5,544.7 722.5,544.8 726.5,544.8 731.5,542.7 735.5,541.1 740.5,540.6 744.5,540.2 749.5,539.7 753.5,539.3 757.5,539.0 762.5,538.5 766.5,538.2 771.5,537.7 775.5,537.4 780.5,536.8 784.5,535.0 788.5,534.9 793.5,534.9 797.5,534.8 802.5,534.7 806.5,534.7 811.5,534.0 815.5,533.1 819.5,533.1 824.5,533.1 828.5,533.1 833.5,530.0 837.5,528.6 842.5,527.8 846.5,527.1 851.5,526.3 855.5,525.7 859.5,525.0 864.5,524.3 868.5,523.6 873.5,522.8 877.5,522.2 882.5,521.6 886.5,521.4 890.5,521.5 895.5,521.5 899.5,521.6 904.5,521.6 908.5,521.7 913.5,521.8 917.5,521.9 922.5,522.2 926.5,522.5 930.5,522.8 935.5,523.1 939.5,523.4 944.5,523.7 948.5,524.0 953.5,525.6 957.5,527.3 961.5,528.0 966.5,528.7 970.5,529.3 975.5,529.8 979.5,530.1 984.5,530.6 988.5,530.9 993.5,531.1 997.5,531.2 1001.5,531.4 1006.5,531.6 1010.5,531.4 1015.5,531.1 1019.5,530.6 1024.5,529.7 1028.5,529.0 1032.5,529.2 1037.5,529.4 1041.5,529.8 1046.5,530.1 1050.5,530.5 1055.5,530.8 1059.5,531.2 1064.5,532.0 1068.5,532.7 1072.5,533.4 1077.5,535.1 1081.5,536.2 1086.5,536.7 1090.5,537.1 1095.5,537.6 1099.5,538.5 1103.5,539.5 1108.5,539.5 1112.5,539.5 1117.5,539.4 1121.5,539.4 1126.5,539.4 1130.5,539.4 1135.5,539.3 1139.5,539.3 1143.5,539.3 1148.5,539.3 1152.5,539.2 1157.5,539.2 1161.5,539.2 1166.5,539.2 1170.5,539.2 1174.5,539.2 1179.5,539.2 1183.5,539.1 1188.5,538.6 1192.5,538.2 1197.5,538.1 1201.5,538.1 1206.5,538.1 1210.5,538.0 1214.5,538.0 1219.5,537.9 1223.5,537.9 1228.5,537.8 1232.5,537.8 1237.5,537.9 1241.5,538.0 1245.5,538.1 1250.5,538.2 1254.5,538.2 1259.5,538.3 1263.5,538.4" fill="none" stroke="#000" stroke-width="2" stroke-linejoin="round"/>
</g>
<text x="1523 1530 1537 1540" y="11.4" fill="#000">11.5</text>
<text x="1523 1530 1537 1540" y="58.4" fill="#000">11.0</text>
<text x="1523 1530 1537 1540" y="106.4" fill="#000">10.5</text>
<text x="1523 1530 1537 1540" y="153.4" fill="#000">10.0</text>
<text x="1530 1537 1540" y="200.4" fill="#000">9.5</text>
<text x="1530 1537 1540" y="248.4" fill="#000">9.0</text>
<text x="1530 1537 1540" y="295.4" fill="#000">8.5</text>
<text x="1530 1537 1540" y="343.4" fill="#000">8.0</text>
<text x="1530 1537 1540" y="390.4" fill="#000">7.5</text>
<text x="1502 1509 1516 1523 1526 1533 1540" y="488.4" fill="#000">300,000</text>
<text x="1502 1509 1516 1523 1526 1533 1540" y="517.4" fill="#000">200,000</text>
<text x="1502 1509 1516 1523 1526 1533 1540" y="546.4" fill="#000">100,000</text>
<text x="1540" y="575.4" fill="#000">0</text>
<text x="1498 1502 1509 1516 1523 1526 1533 1540" y="605.4" fill="#000">-100,000</text>
<text x="1498 1502 1509 1516 1523 1526 1533 1540" y="634.4" fill="#000">-200,000</text>
<rect x="1498" y="28" width="32" height="15" fill="#000" shape-rendering="crispEdges"/><polygon points="1498,28 1491,35.5 1498,43" fill="#000"/><text x="1502.4 1509.4 1516.4 1519.4" y="40" fill="#fff">11.2</text>
<rect x="1498" y="81" width="39" height="15" fill="#000" shape-rendering="crispEdges"/><text x="1502.4 1509.4 1516.4 1519.4 1526.4" y="93" fill="#fff">10.64</text>
<rect x="1498" y="114" width="46" height="15" fill="#ff0000" shape-rendering="crispEdges"/><text x="1502.4 1509.4 1516.4 1519.4 1526.4 1533.4" y="126" fill="#000">10.292</text>
<rect x="1498" y="170" width="46" height="15" fill="#0000ff" shape-rendering="crispEdges"/><text x="1502.4 1509.4 1512.4 1519.4 1526.4 1533.4" y="182" fill="#fff">9.7096</text>
<rect x="1498" y="185" width="53" height="15" fill="#28c828" shape-rendering="crispEdges"/><text x="1502.4 1509.4 1512.4 1519.4 1526.4 1533.4 1540.4" y="197" fill="#000">9.55167</text>
<rect x="1498" y="228" width="53" height="15" fill="#ff00ff" shape-rendering="crispEdges"/><text x="1502.4 1509.4 1512.4 1519.4 1526.4 1533.4 1540.4" y="240" fill="#000">9.09485</text>
<rect x="1498" y="458" width="53" height="15" fill="#008000" shape-rendering="crispEdges"/><polygon points="1498,458 1491,465.5 1498,473" fill="#008000"/><text x="1502.4 1509.4 1516.4 1523.4 1526.4 1533.4 1540.4" y="470" fill="#fff">367,610</text>
<rect x="1498" y="530" width="53" height="15" fill="#000" shape-rendering="crispEdges"/><text x="1502.4 1509.4 1516.4 1523.4 1526.4 1533.4 1540.4" y="542" fill="#fff">120,236</text>
<text x="55 61 68" y="446" fill="#000">Jul</text>
<text x="157 164 171" y="446" fill="#000">Aug</text>
<text x="255 263 270" y="446" fill="#000">Sep</text>
<text x="343 352 358" y="446" fill="#000">Oct</text>
<text x="445 454 461" y="446" fill="#000">Nov</text>
<text x="539 548 555" y="446" fill="#000">Dec</text>
<text x="636 643 650 657" y="446" fill="#000" font-weight="bold">2020</text>
<text x="712 719 726" y="446" fill="#000">Feb</text>
<text x="800 809 816" y="446" fill="#000">Mar</text>
<text x="898 905 912" y="446" fill="#000">Apr</text>
<text x="987 996 1003" y="446" fill="#000">May</text>
<text x="1075 1081 1088" y="446" fill="#000">Jun</text>
<text x="1173 1179 1186" y="446" fill="#000">Jul</text>
<text x="7 15 22 34 41 50 57 60 63 71 78 81 88 95 98 105 112 119 129 136 143 146 153 160 163 170 180 189 196 203 213 220 227 230 237 243 252 258 265 272 275 282 288 295 305 312 319 322 329 336 342 351 354 361 368 378 385 392 395 405 409 416 419 426 437" y="12" fill="#000">SAM-Daily7/30/202000:00:00Open10.4,Hi11.3,Lo10.25,Close11.2(5.7%)</text><text x="444 453 460 464 473 476 483 490 497 500 507 514 521" y="12" fill="#ff00ff">MA(Close,200)</text><text x="528 538 545 548 555 562" y="12" fill="#000">=9.09,</text><text x="568 577 584 591 595 604 607 614 621 628 631 638 645 652" y="12" fill="#28c828">MA1(Close,120)</text><text x="659 669 676 679 686 693" y="12" fill="#000">=9.55,</text><text x="699 708 715 722 726 735 738 745 752 759 762 769 776" y="12" fill="#0000ff">MA2(Close,50)</text><text x="783 793 800 803 810 817" y="12" fill="#000">=9.71,</text><text x="823 832 839 846 850 859 862 869 876 883 886 893 900" y="12" fill="#ff0000">MA3(Close,20)</text><text x="907 917 924 931 934 941 948 954 963 970 977 981 990 993 1000 1007 1014 1017 1024 1031 1041 1048 1055 1058 1065" y="12" fill="#000">=10.29,MA4(Close,5)=10.64</text>
<text x="7 15 22 34" y="465" fill="#000">SAM-</text><text x="41 48 55 58 65 76" y="465" fill="#008000">Volume</text><text x="86 96 103 110 117 120 127 134 141 144 151 158 164 173 180 184 191 198 201 208 219 226 229 236 243 250 260 267 274 281 284 291 298 305 308 315" y="465" fill="#000">=367,610.00,MA(Volume,50)=120,235.80</text>
</svg></body></html>
